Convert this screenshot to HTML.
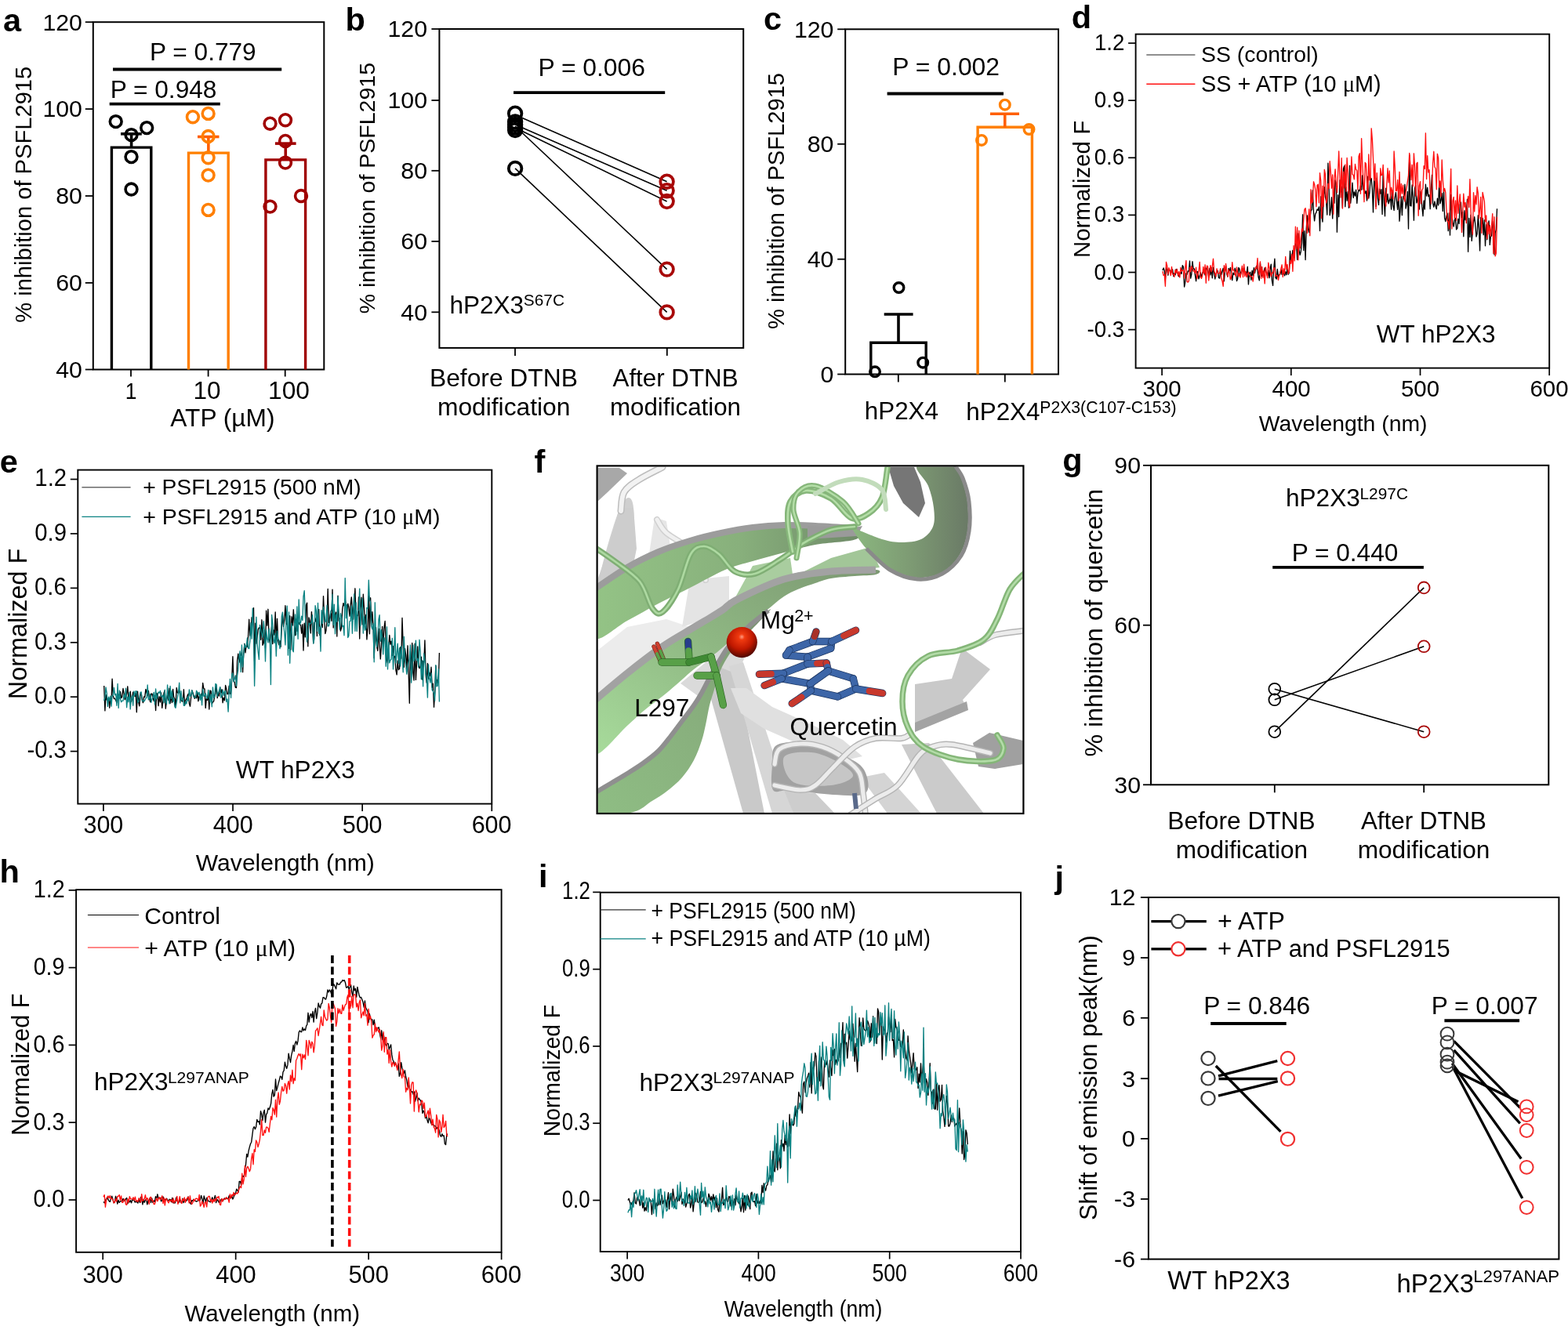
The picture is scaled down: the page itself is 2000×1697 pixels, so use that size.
<!DOCTYPE html>
<html><head><meta charset="utf-8"><title>Figure</title>
<style>
html,body{margin:0;padding:0;background:#fff;overflow:hidden;}
svg{display:block;}
text{font-family:'Liberation Sans', Arial, sans-serif;}
</style></head>
<body>
<svg width="2000" height="1697" viewBox="0 0 2000 1697">
<rect width="2000" height="1697" fill="#fff"/>
<text x="3.90" y="39.60" font-size="41.50" font-weight="bold" fill="#000">a</text>
<rect x="118.80" y="28.20" width="294.50" height="443.30" fill="none" stroke="#000" stroke-width="2.0"/>
<line x1="108.80" y1="28.20" x2="118.80" y2="28.20" stroke="#000" stroke-width="1.8"/>
<text x="54.41" y="38.50" font-size="30.30" font-weight="normal" fill="#000">120</text>
<line x1="108.80" y1="139.10" x2="118.80" y2="139.10" stroke="#000" stroke-width="1.8"/>
<text x="54.41" y="149.40" font-size="30.30" font-weight="normal" fill="#000">100</text>
<line x1="108.80" y1="250.00" x2="118.80" y2="250.00" stroke="#000" stroke-width="1.8"/>
<text x="71.23" y="260.30" font-size="30.30" font-weight="normal" fill="#000">80</text>
<line x1="108.80" y1="360.90" x2="118.80" y2="360.90" stroke="#000" stroke-width="1.8"/>
<text x="71.23" y="371.20" font-size="30.30" font-weight="normal" fill="#000">60</text>
<line x1="108.80" y1="471.50" x2="118.80" y2="471.50" stroke="#000" stroke-width="1.8"/>
<text x="71.23" y="481.80" font-size="30.30" font-weight="normal" fill="#000">40</text>
<line x1="167.00" y1="471.50" x2="167.00" y2="480.50" stroke="#000" stroke-width="1.8"/>
<line x1="265.60" y1="471.50" x2="265.60" y2="480.50" stroke="#000" stroke-width="1.8"/>
<line x1="363.70" y1="471.50" x2="363.70" y2="480.50" stroke="#000" stroke-width="1.8"/>
<text x="159.72" y="508.50" font-size="30.30" font-weight="normal" fill="#000" textLength="14.70" lengthAdjust="spacingAndGlyphs">1</text>
<text x="246.44" y="508.50" font-size="31.50" font-weight="normal" fill="#000">10</text>
<text x="342.02" y="508.50" font-size="31.70" font-weight="normal" fill="#000">100</text>
<text x="217.30" y="543.50" font-size="31.68" font-weight="normal" fill="#000">ATP (µM)</text>
<text transform="translate(39.90,411.82) rotate(-90)" x="0" y="0" font-size="29.13" font-weight="normal" fill="#000">% inhibition of PSFL2915</text>
<line x1="144.00" y1="88.50" x2="359.20" y2="88.50" stroke="#000" stroke-width="3.8"/>
<line x1="139.70" y1="132.60" x2="280.80" y2="132.60" stroke="#000" stroke-width="3.8"/>
<text x="191.07" y="76.50" font-size="31.62" font-weight="normal" fill="#000">P = 0.779</text>
<text x="140.67" y="125.20" font-size="31.65" font-weight="normal" fill="#000">P = 0.948</text>
<path d="M142.4,471.5 V188.1 H192.8 V471.5" fill="none" stroke="#000" stroke-width="3.4"/>
<line x1="167.60" y1="188.10" x2="167.60" y2="170.80" stroke="#000" stroke-width="3.6"/>
<line x1="154.00" y1="170.80" x2="180.80" y2="170.80" stroke="#000" stroke-width="3.6"/>
<path d="M240.5,471.5 V195.1 H291.2 V471.5" fill="none" stroke="#FF7F00" stroke-width="3.4"/>
<line x1="265.85" y1="195.10" x2="265.85" y2="174.50" stroke="#FF5F00" stroke-width="3.6"/>
<line x1="252.00" y1="174.50" x2="279.50" y2="174.50" stroke="#FF5F00" stroke-width="3.6"/>
<path d="M338.9,471.5 V203.9 H389.6 V471.5" fill="none" stroke="#A00000" stroke-width="3.4"/>
<line x1="364.25" y1="203.90" x2="364.25" y2="183.10" stroke="#A00000" stroke-width="3.6"/>
<line x1="350.90" y1="183.10" x2="377.60" y2="183.10" stroke="#A00000" stroke-width="3.6"/>
<circle cx="147.70" cy="155.10" r="7.40" fill="none" stroke="#000" stroke-width="3.6"/>
<circle cx="167.50" cy="172.10" r="7.40" fill="none" stroke="#000" stroke-width="3.6"/>
<circle cx="187.20" cy="163.10" r="7.40" fill="none" stroke="#000" stroke-width="3.6"/>
<circle cx="167.50" cy="200.10" r="7.40" fill="none" stroke="#000" stroke-width="3.6"/>
<circle cx="167.50" cy="241.50" r="7.40" fill="none" stroke="#000" stroke-width="3.6"/>
<circle cx="245.90" cy="149.20" r="7.40" fill="none" stroke="#FF7F00" stroke-width="3.6"/>
<circle cx="265.60" cy="144.90" r="7.40" fill="none" stroke="#FF7F00" stroke-width="3.6"/>
<circle cx="265.60" cy="174.00" r="7.40" fill="none" stroke="#FF7F00" stroke-width="3.6"/>
<circle cx="265.60" cy="201.20" r="7.40" fill="none" stroke="#FF7F00" stroke-width="3.6"/>
<circle cx="265.60" cy="223.60" r="7.40" fill="none" stroke="#FF7F00" stroke-width="3.6"/>
<circle cx="265.60" cy="267.90" r="7.40" fill="none" stroke="#FF7F00" stroke-width="3.6"/>
<circle cx="344.50" cy="157.70" r="7.40" fill="none" stroke="#A00000" stroke-width="3.6"/>
<circle cx="364.00" cy="153.20" r="7.40" fill="none" stroke="#A00000" stroke-width="3.6"/>
<circle cx="364.00" cy="179.90" r="7.40" fill="none" stroke="#A00000" stroke-width="3.6"/>
<circle cx="364.00" cy="207.60" r="7.40" fill="none" stroke="#A00000" stroke-width="3.6"/>
<circle cx="384.00" cy="250.00" r="7.40" fill="none" stroke="#A00000" stroke-width="3.6"/>
<circle cx="344.50" cy="263.60" r="7.40" fill="none" stroke="#A00000" stroke-width="3.6"/>
<text x="440.62" y="39.20" font-size="41.50" font-weight="bold" fill="#000">b</text>
<rect x="560.40" y="37.00" width="387.80" height="406.90" fill="none" stroke="#000" stroke-width="2.0"/>
<line x1="550.40" y1="37.00" x2="560.40" y2="37.00" stroke="#000" stroke-width="1.8"/>
<text x="494.51" y="47.30" font-size="30.30" font-weight="normal" fill="#000">120</text>
<line x1="550.40" y1="128.00" x2="560.40" y2="128.00" stroke="#000" stroke-width="1.8"/>
<text x="494.51" y="138.30" font-size="30.30" font-weight="normal" fill="#000">100</text>
<line x1="550.40" y1="217.80" x2="560.40" y2="217.80" stroke="#000" stroke-width="1.8"/>
<text x="511.33" y="228.10" font-size="30.30" font-weight="normal" fill="#000">80</text>
<line x1="550.40" y1="308.00" x2="560.40" y2="308.00" stroke="#000" stroke-width="1.8"/>
<text x="511.33" y="318.30" font-size="30.30" font-weight="normal" fill="#000">60</text>
<line x1="550.40" y1="398.30" x2="560.40" y2="398.30" stroke="#000" stroke-width="1.8"/>
<text x="511.33" y="408.60" font-size="30.30" font-weight="normal" fill="#000">40</text>
<line x1="657.00" y1="443.90" x2="657.00" y2="453.90" stroke="#000" stroke-width="1.8"/>
<line x1="850.80" y1="443.90" x2="850.80" y2="453.90" stroke="#000" stroke-width="1.8"/>
<line x1="655.00" y1="118.20" x2="848.20" y2="118.20" stroke="#000" stroke-width="3.8"/>
<text x="686.45" y="96.70" font-size="31.82" font-weight="normal" fill="#000">P = 0.006</text>
<text x="573.39" y="399.60" font-size="31.56" font-weight="normal" fill="#000">hP2X3</text>
<text x="667.86" y="389.90" font-size="20.83" font-weight="normal" fill="#000">S67C</text>
<text x="547.96" y="493.40" font-size="31.78" font-weight="normal" fill="#000">Before DTNB</text>
<text x="557.93" y="529.70" font-size="31.78" font-weight="normal" fill="#000">modification</text>
<text x="781.50" y="493.40" font-size="31.32" font-weight="normal" fill="#000">After DTNB</text>
<text x="777.96" y="529.70" font-size="31.32" font-weight="normal" fill="#000">modification</text>
<text transform="translate(478.30,400.30) rotate(-90)" x="0" y="0" font-size="28.54" font-weight="normal" fill="#000">% inhibition of PSFL2915</text>
<line x1="657.10" y1="146.50" x2="850.60" y2="231.70" stroke="#000" stroke-width="1.6"/>
<line x1="657.10" y1="159.00" x2="850.60" y2="243.20" stroke="#000" stroke-width="1.6"/>
<line x1="657.10" y1="163.00" x2="850.60" y2="257.00" stroke="#000" stroke-width="1.6"/>
<line x1="657.10" y1="161.00" x2="850.60" y2="343.60" stroke="#000" stroke-width="1.6"/>
<line x1="657.10" y1="214.90" x2="850.60" y2="398.40" stroke="#000" stroke-width="1.6"/>
<circle cx="657.10" cy="144.70" r="8.30" fill="none" stroke="#000" stroke-width="3.8"/>
<circle cx="657.10" cy="155.50" r="8.30" fill="none" stroke="#000" stroke-width="3.8"/>
<circle cx="657.10" cy="159.00" r="8.30" fill="none" stroke="#000" stroke-width="3.8"/>
<circle cx="657.10" cy="162.50" r="8.30" fill="none" stroke="#000" stroke-width="3.8"/>
<circle cx="657.10" cy="166.00" r="8.30" fill="none" stroke="#000" stroke-width="3.8"/>
<circle cx="657.10" cy="214.90" r="8.30" fill="none" stroke="#000" stroke-width="3.8"/>
<circle cx="850.60" cy="231.70" r="8.30" fill="none" stroke="#A80808" stroke-width="3.8"/>
<circle cx="850.60" cy="243.20" r="8.30" fill="none" stroke="#A80808" stroke-width="3.8"/>
<circle cx="850.60" cy="257.00" r="8.30" fill="none" stroke="#A80808" stroke-width="3.8"/>
<circle cx="850.60" cy="343.60" r="8.30" fill="none" stroke="#A80808" stroke-width="3.8"/>
<circle cx="850.60" cy="398.40" r="8.30" fill="none" stroke="#A80808" stroke-width="3.8"/>
<text x="973.88" y="37.60" font-size="41.50" font-weight="bold" fill="#000">c</text>
<rect x="1078.20" y="37.30" width="271.80" height="440.20" fill="none" stroke="#000" stroke-width="2.0"/>
<line x1="1068.20" y1="37.30" x2="1078.20" y2="37.30" stroke="#000" stroke-width="1.8"/>
<text x="1012.91" y="47.60" font-size="30.30" font-weight="normal" fill="#000">120</text>
<line x1="1068.20" y1="183.80" x2="1078.20" y2="183.80" stroke="#000" stroke-width="1.8"/>
<text x="1029.73" y="194.10" font-size="30.30" font-weight="normal" fill="#000">80</text>
<line x1="1068.20" y1="330.70" x2="1078.20" y2="330.70" stroke="#000" stroke-width="1.8"/>
<text x="1029.73" y="341.00" font-size="30.30" font-weight="normal" fill="#000">40</text>
<line x1="1068.20" y1="477.50" x2="1078.20" y2="477.50" stroke="#000" stroke-width="1.8"/>
<text x="1046.54" y="487.80" font-size="30.30" font-weight="normal" fill="#000">0</text>
<line x1="1145.80" y1="477.50" x2="1145.80" y2="487.50" stroke="#000" stroke-width="1.8"/>
<line x1="1281.80" y1="477.50" x2="1281.80" y2="487.50" stroke="#000" stroke-width="1.8"/>
<line x1="1131.60" y1="119.50" x2="1280.00" y2="119.50" stroke="#000" stroke-width="3.8"/>
<text x="1138.35" y="96.40" font-size="31.87" font-weight="normal" fill="#000">P = 0.002</text>
<text x="1102.80" y="534.60" font-size="31.38" font-weight="normal" fill="#000">hP2X4</text>
<text x="1232.20" y="535.90" font-size="31.45" font-weight="normal" fill="#000">hP2X4</text>
<text x="1326.31" y="526.70" font-size="21.18" font-weight="normal" fill="#000">P2X3(C107-C153)</text>
<text transform="translate(999.60,420.02) rotate(-90)" x="0" y="0" font-size="29.13" font-weight="normal" fill="#000">% inhibition of PSFL2915</text>
<path d="M1110.8,477.5 V437.2 H1181.2 V477.5" fill="none" stroke="#000" stroke-width="3.4"/>
<line x1="1146.00" y1="437.20" x2="1146.00" y2="401.00" stroke="#000" stroke-width="3.6"/>
<line x1="1127.70" y1="401.00" x2="1164.60" y2="401.00" stroke="#000" stroke-width="3.6"/>
<path d="M1247.1,477.5 V162.3 H1316.4 V477.5" fill="none" stroke="#FF7F00" stroke-width="3.4"/>
<line x1="1281.75" y1="162.30" x2="1281.75" y2="145.20" stroke="#FF5F00" stroke-width="3.6"/>
<line x1="1263.00" y1="145.20" x2="1300.00" y2="145.20" stroke="#FF5F00" stroke-width="3.6"/>
<circle cx="1146.50" cy="367.00" r="6.30" fill="none" stroke="#000" stroke-width="3.4"/>
<circle cx="1116.00" cy="474.30" r="6.30" fill="none" stroke="#000" stroke-width="3.4"/>
<circle cx="1177.20" cy="462.70" r="6.30" fill="none" stroke="#000" stroke-width="3.4"/>
<circle cx="1281.80" cy="133.70" r="6.30" fill="none" stroke="#FF7F00" stroke-width="3.4"/>
<circle cx="1252.00" cy="178.90" r="6.30" fill="none" stroke="#FF7F00" stroke-width="3.4"/>
<circle cx="1312.50" cy="165.00" r="6.30" fill="none" stroke="#FF7F00" stroke-width="3.4"/>
<text x="1355.26" y="601.00" font-size="41.50" font-weight="bold" fill="#000">g</text>
<rect x="1468.00" y="593.80" width="507.30" height="407.50" fill="none" stroke="#000" stroke-width="2.0"/>
<line x1="1458.00" y1="593.80" x2="1468.00" y2="593.80" stroke="#000" stroke-width="1.8"/>
<text x="1421.33" y="604.10" font-size="30.30" font-weight="normal" fill="#000">90</text>
<line x1="1458.00" y1="797.70" x2="1468.00" y2="797.70" stroke="#000" stroke-width="1.8"/>
<text x="1421.33" y="808.00" font-size="30.30" font-weight="normal" fill="#000">60</text>
<line x1="1458.00" y1="1001.30" x2="1468.00" y2="1001.30" stroke="#000" stroke-width="1.8"/>
<text x="1421.33" y="1011.60" font-size="30.30" font-weight="normal" fill="#000">30</text>
<line x1="1625.80" y1="1001.30" x2="1625.80" y2="1011.30" stroke="#000" stroke-width="1.8"/>
<line x1="1816.20" y1="1001.30" x2="1816.20" y2="1011.30" stroke="#000" stroke-width="1.8"/>
<line x1="1623.20" y1="723.80" x2="1815.90" y2="723.80" stroke="#000" stroke-width="3.8"/>
<text x="1647.67" y="716.20" font-size="31.62" font-weight="normal" fill="#000">P = 0.440</text>
<text x="1639.99" y="646.00" font-size="31.59" font-weight="normal" fill="#000">hP2X3</text>
<text x="1734.53" y="636.60" font-size="20.85" font-weight="normal" fill="#000">L297C</text>
<text x="1489.27" y="1057.80" font-size="31.68" font-weight="normal" fill="#000">Before DTNB</text>
<text x="1499.65" y="1094.70" font-size="31.57" font-weight="normal" fill="#000">modification</text>
<text x="1736.00" y="1057.80" font-size="31.30" font-weight="normal" fill="#000">After DTNB</text>
<text x="1731.64" y="1094.70" font-size="31.64" font-weight="normal" fill="#000">modification</text>
<text transform="translate(1405.80,965.53) rotate(-90)" x="0" y="0" font-size="32.18" font-weight="normal" fill="#000">% inhibition of quercetin</text>
<line x1="1625.80" y1="879.20" x2="1816.20" y2="933.70" stroke="#000" stroke-width="1.6"/>
<line x1="1625.80" y1="892.80" x2="1816.20" y2="824.80" stroke="#000" stroke-width="1.6"/>
<line x1="1625.80" y1="933.70" x2="1816.20" y2="749.90" stroke="#000" stroke-width="1.6"/>
<circle cx="1625.80" cy="879.20" r="7.40" fill="none" stroke="#000" stroke-width="1.8"/>
<circle cx="1625.80" cy="892.80" r="7.40" fill="none" stroke="#000" stroke-width="1.8"/>
<circle cx="1625.80" cy="933.70" r="7.40" fill="none" stroke="#000" stroke-width="1.8"/>
<circle cx="1816.20" cy="749.90" r="7.40" fill="none" stroke="#A80808" stroke-width="1.8"/>
<circle cx="1816.20" cy="824.80" r="7.40" fill="none" stroke="#A80808" stroke-width="1.8"/>
<circle cx="1816.20" cy="933.70" r="7.40" fill="none" stroke="#A80808" stroke-width="1.8"/>
<text x="1345.60" y="1133.60" font-size="41.50" font-weight="bold" fill="#000">j</text>
<rect x="1464.90" y="1145.00" width="523.50" height="461.60" fill="none" stroke="#000" stroke-width="2.0"/>
<line x1="1454.90" y1="1145.00" x2="1464.90" y2="1145.00" stroke="#000" stroke-width="1.8"/>
<text x="1414.68" y="1155.30" font-size="30.30" font-weight="normal" fill="#000">12</text>
<line x1="1454.90" y1="1222.10" x2="1464.90" y2="1222.10" stroke="#000" stroke-width="1.8"/>
<text x="1431.35" y="1232.40" font-size="30.30" font-weight="normal" fill="#000">9</text>
<line x1="1454.90" y1="1298.80" x2="1464.90" y2="1298.80" stroke="#000" stroke-width="1.8"/>
<text x="1431.20" y="1309.10" font-size="30.30" font-weight="normal" fill="#000">6</text>
<line x1="1454.90" y1="1376.20" x2="1464.90" y2="1376.20" stroke="#000" stroke-width="1.8"/>
<text x="1431.20" y="1386.50" font-size="30.30" font-weight="normal" fill="#000">3</text>
<line x1="1454.90" y1="1452.90" x2="1464.90" y2="1452.90" stroke="#000" stroke-width="1.8"/>
<text x="1431.04" y="1463.20" font-size="30.30" font-weight="normal" fill="#000">0</text>
<line x1="1454.90" y1="1529.90" x2="1464.90" y2="1529.90" stroke="#000" stroke-width="1.8"/>
<text x="1421.05" y="1540.20" font-size="30.30" font-weight="normal" fill="#000">-3</text>
<line x1="1454.90" y1="1606.60" x2="1464.90" y2="1606.60" stroke="#000" stroke-width="1.8"/>
<text x="1421.05" y="1616.90" font-size="30.30" font-weight="normal" fill="#000">-6</text>
<text transform="translate(1399.00,1556.98) rotate(-90)" x="0" y="0" font-size="30.74" font-weight="normal" fill="#000">Shift of emission peak(nm)</text>
<line x1="1468.40" y1="1175.60" x2="1538.80" y2="1175.60" stroke="#000" stroke-width="3.2"/>
<circle cx="1502.90" cy="1175.60" r="8.60" fill="#fff" stroke="#3a3a3a" stroke-width="2.2"/>
<line x1="1468.40" y1="1210.80" x2="1538.80" y2="1210.80" stroke="#000" stroke-width="3.2"/>
<circle cx="1502.90" cy="1210.80" r="8.60" fill="#fff" stroke="#f03030" stroke-width="2.2"/>
<text x="1552.99" y="1185.50" font-size="32.12" font-weight="normal" fill="#000">+ ATP</text>
<text x="1553.06" y="1220.70" font-size="30.86" font-weight="normal" fill="#000">+ ATP and PSFL2915</text>
<line x1="1544.20" y1="1305.90" x2="1640.70" y2="1305.90" stroke="#000" stroke-width="4.0"/>
<line x1="1842.40" y1="1302.30" x2="1938.10" y2="1302.30" stroke="#000" stroke-width="4.0"/>
<text x="1535.16" y="1294.20" font-size="31.73" font-weight="normal" fill="#000">P = 0.846</text>
<text x="1825.77" y="1294.20" font-size="31.63" font-weight="normal" fill="#000">P = 0.007</text>
<text x="1489.34" y="1645.30" font-size="32.45" font-weight="normal" fill="#000">WT hP2X3</text>
<text x="1781.50" y="1649.10" font-size="32.84" font-weight="normal" fill="#000">hP2X3</text>
<text x="1879.22" y="1636.20" font-size="22.20" font-weight="normal" fill="#000">L297ANAP</text>
<line x1="1550.80" y1="1360.00" x2="1633.50" y2="1443.90" stroke="#000" stroke-width="3.3"/>
<line x1="1554.00" y1="1372.80" x2="1629.30" y2="1353.70" stroke="#000" stroke-width="3.3"/>
<line x1="1554.50" y1="1376.50" x2="1629.30" y2="1376.50" stroke="#000" stroke-width="3.3"/>
<line x1="1554.00" y1="1398.20" x2="1629.80" y2="1379.70" stroke="#000" stroke-width="3.3"/>
<line x1="1854.50" y1="1328.40" x2="1938.80" y2="1413.40" stroke="#000" stroke-width="3.3"/>
<line x1="1854.50" y1="1339.80" x2="1938.80" y2="1433.30" stroke="#000" stroke-width="3.3"/>
<line x1="1855.20" y1="1365.90" x2="1936.50" y2="1405.70" stroke="#000" stroke-width="3.3"/>
<line x1="1852.20" y1="1356.70" x2="1940.30" y2="1478.50" stroke="#000" stroke-width="3.3"/>
<line x1="1853.00" y1="1361.30" x2="1941.80" y2="1529.10" stroke="#000" stroke-width="3.3"/>
<circle cx="1541.00" cy="1350.50" r="8.60" fill="none" stroke="#3a3a3a" stroke-width="2.2"/>
<circle cx="1541.00" cy="1375.90" r="8.60" fill="none" stroke="#3a3a3a" stroke-width="2.2"/>
<circle cx="1541.00" cy="1401.40" r="8.60" fill="none" stroke="#3a3a3a" stroke-width="2.2"/>
<circle cx="1642.50" cy="1350.50" r="8.60" fill="none" stroke="#f03030" stroke-width="2.2"/>
<circle cx="1642.50" cy="1375.90" r="8.60" fill="none" stroke="#f03030" stroke-width="2.2"/>
<circle cx="1642.50" cy="1453.40" r="8.60" fill="none" stroke="#f03030" stroke-width="2.2"/>
<circle cx="1846.00" cy="1359.80" r="8.40" fill="none" stroke="#3a3a3a" stroke-width="2.0"/>
<circle cx="1846.00" cy="1355.20" r="8.40" fill="none" stroke="#3a3a3a" stroke-width="2.0"/>
<circle cx="1846.00" cy="1345.20" r="8.40" fill="none" stroke="#3a3a3a" stroke-width="2.0"/>
<circle cx="1846.00" cy="1329.90" r="8.40" fill="none" stroke="#3a3a3a" stroke-width="2.0"/>
<circle cx="1846.00" cy="1319.20" r="8.40" fill="none" stroke="#3a3a3a" stroke-width="2.0"/>
<circle cx="1947.20" cy="1411.90" r="8.40" fill="none" stroke="#f03030" stroke-width="2.0"/>
<circle cx="1947.20" cy="1422.60" r="8.40" fill="none" stroke="#f03030" stroke-width="2.0"/>
<circle cx="1947.20" cy="1442.50" r="8.40" fill="none" stroke="#f03030" stroke-width="2.0"/>
<circle cx="1947.20" cy="1489.30" r="8.40" fill="none" stroke="#f03030" stroke-width="2.0"/>
<circle cx="1947.20" cy="1540.60" r="8.40" fill="none" stroke="#f03030" stroke-width="2.0"/>
<text x="1366.86" y="35.90" font-size="41.50" font-weight="bold" fill="#000">d</text>
<rect x="1448.60" y="43.60" width="527.60" height="426.00" fill="none" stroke="#000" stroke-width="1.9"/>
<line x1="1439.10" y1="55.06" x2="1448.60" y2="55.06" stroke="#000" stroke-width="1.7"/>
<text x="1395.97" y="64.06" font-size="29.40" font-weight="normal" fill="#000" textLength="38.42" lengthAdjust="spacingAndGlyphs">1.2</text>
<line x1="1439.10" y1="128.17" x2="1448.60" y2="128.17" stroke="#000" stroke-width="1.7"/>
<text x="1395.83" y="137.17" font-size="29.40" font-weight="normal" fill="#000" textLength="38.42" lengthAdjust="spacingAndGlyphs">0.9</text>
<line x1="1439.10" y1="201.28" x2="1448.60" y2="201.28" stroke="#000" stroke-width="1.7"/>
<text x="1395.69" y="210.28" font-size="29.40" font-weight="normal" fill="#000" textLength="38.42" lengthAdjust="spacingAndGlyphs">0.6</text>
<line x1="1439.10" y1="274.39" x2="1448.60" y2="274.39" stroke="#000" stroke-width="1.7"/>
<text x="1395.69" y="283.39" font-size="29.40" font-weight="normal" fill="#000" textLength="38.42" lengthAdjust="spacingAndGlyphs">0.3</text>
<line x1="1439.10" y1="347.50" x2="1448.60" y2="347.50" stroke="#000" stroke-width="1.7"/>
<text x="1395.55" y="356.50" font-size="29.40" font-weight="normal" fill="#000" textLength="38.42" lengthAdjust="spacingAndGlyphs">0.0</text>
<line x1="1439.10" y1="420.61" x2="1448.60" y2="420.61" stroke="#000" stroke-width="1.7"/>
<text x="1386.57" y="429.61" font-size="29.40" font-weight="normal" fill="#000" textLength="47.62" lengthAdjust="spacingAndGlyphs">-0.3</text>
<line x1="1482.10" y1="469.60" x2="1482.10" y2="479.10" stroke="#000" stroke-width="1.7"/>
<text x="1457.55" y="505.70" font-size="29.40" font-weight="normal" fill="#000">300</text>
<line x1="1646.80" y1="469.60" x2="1646.80" y2="479.10" stroke="#000" stroke-width="1.7"/>
<text x="1622.55" y="505.70" font-size="29.40" font-weight="normal" fill="#000">400</text>
<line x1="1811.50" y1="469.60" x2="1811.50" y2="479.10" stroke="#000" stroke-width="1.7"/>
<text x="1786.95" y="505.70" font-size="29.40" font-weight="normal" fill="#000">500</text>
<line x1="1976.20" y1="469.60" x2="1976.20" y2="479.10" stroke="#000" stroke-width="1.7"/>
<text x="1951.50" y="505.70" font-size="29.40" font-weight="normal" fill="#000">600</text>
<path d="M1482.9,345.1 L1484.1,341.9 L1485.2,345.2 L1486.4,356.4 L1487.5,341.3 L1488.7,344.5 L1489.8,351.2 L1491.0,343.5 L1492.1,345.0 L1493.3,345.5 L1494.5,347.3 L1495.6,343.8 L1496.8,352.5 L1497.9,348.6 L1499.1,350.8 L1500.2,343.4 L1501.4,347.2 L1502.5,349.5 L1503.7,352.8 L1504.8,349.3 L1506.0,347.4 L1507.1,349.4 L1508.3,338.7 L1509.4,340.6 L1510.6,366.0 L1511.7,360.4 L1512.9,348.7 L1514.1,350.4 L1515.2,346.0 L1516.4,346.0 L1517.5,333.0 L1518.7,355.1 L1519.8,350.1 L1521.0,333.6 L1522.1,343.1 L1523.3,343.0 L1524.4,351.0 L1525.6,358.7 L1526.7,346.4 L1527.9,346.8 L1529.0,355.9 L1530.2,352.2 L1531.3,348.0 L1532.5,353.9 L1533.7,348.2 L1534.8,346.8 L1536.0,347.3 L1537.1,351.0 L1538.3,343.4 L1539.4,341.4 L1540.6,345.3 L1541.7,353.1 L1542.9,342.5 L1544.0,350.9 L1545.2,341.5 L1546.3,354.8 L1547.5,341.3 L1548.6,347.6 L1549.8,356.0 L1550.9,349.6 L1552.1,347.1 L1553.3,345.6 L1554.4,354.2 L1555.6,355.1 L1556.7,346.1 L1557.9,350.7 L1559.0,345.9 L1560.2,342.3 L1561.3,358.8 L1562.5,345.8 L1563.6,339.1 L1564.8,349.5 L1565.9,353.0 L1567.1,342.4 L1568.2,345.8 L1569.4,341.4 L1570.5,349.9 L1571.7,357.6 L1572.8,348.3 L1574.0,350.5 L1575.2,342.2 L1576.3,346.2 L1577.5,358.6 L1578.6,355.7 L1579.8,341.5 L1580.9,342.9 L1582.1,351.9 L1583.2,347.5 L1584.4,344.5 L1585.5,344.3 L1586.7,341.5 L1587.8,345.7 L1589.0,348.1 L1590.1,349.3 L1591.3,340.3 L1592.4,362.9 L1593.6,348.4 L1594.8,347.3 L1595.9,357.2 L1597.1,345.2 L1598.2,351.9 L1599.4,341.6 L1600.5,348.4 L1601.7,342.9 L1602.8,339.2 L1604.0,344.9 L1605.1,353.5 L1606.3,357.8 L1607.4,335.5 L1608.6,348.3 L1609.7,352.2 L1610.9,346.5 L1612.0,348.8 L1613.2,341.7 L1614.4,347.3 L1615.5,347.4 L1616.7,352.4 L1617.8,344.3 L1619.0,354.6 L1620.1,343.0 L1621.3,337.1 L1622.4,357.9 L1623.6,364.3 L1624.7,343.3 L1625.9,330.1 L1627.0,354.3 L1628.2,356.0 L1629.3,343.5 L1630.5,353.2 L1631.6,351.0 L1632.8,349.9 L1634.0,343.9 L1635.1,350.3 L1636.3,345.6 L1637.4,348.2 L1638.6,351.8 L1639.7,346.8 L1640.9,350.7 L1642.0,341.8 L1643.2,350.2 L1644.3,348.1 L1645.5,320.3 L1646.6,332.4 L1647.8,329.4 L1648.9,319.4 L1650.1,328.2 L1651.2,322.8 L1652.4,310.9 L1653.6,310.9 L1654.7,331.3 L1655.9,297.9 L1657.0,319.1 L1658.2,325.4 L1659.3,320.8 L1660.5,310.2 L1661.6,273.8 L1662.8,319.6 L1663.9,294.7 L1665.1,331.5 L1666.2,292.8 L1667.4,275.0 L1668.5,292.1 L1669.7,296.4 L1670.8,279.4 L1672.0,269.1 L1673.2,267.3 L1674.3,242.7 L1675.5,270.4 L1676.6,281.9 L1677.8,273.0 L1678.9,271.1 L1680.1,267.0 L1681.2,268.4 L1682.4,264.0 L1683.5,294.5 L1684.7,250.8 L1685.8,273.8 L1687.0,283.1 L1688.1,251.2 L1689.3,238.6 L1690.4,251.7 L1691.6,256.4 L1692.8,274.1 L1693.9,208.2 L1695.1,241.2 L1696.2,274.7 L1697.4,267.6 L1698.5,251.8 L1699.7,278.9 L1700.8,249.0 L1702.0,259.2 L1703.1,230.0 L1704.3,234.0 L1705.4,296.2 L1706.6,248.8 L1707.7,276.6 L1708.9,229.6 L1710.0,245.1 L1711.2,238.2 L1712.4,265.2 L1713.5,215.3 L1714.7,211.6 L1715.8,263.7 L1717.0,238.7 L1718.1,256.1 L1719.3,244.5 L1720.4,265.2 L1721.6,211.3 L1722.7,259.2 L1723.9,247.2 L1725.0,233.2 L1726.2,252.3 L1727.3,244.9 L1728.5,250.0 L1729.6,242.2 L1730.8,259.4 L1731.9,246.5 L1733.1,242.1 L1734.3,243.8 L1735.4,236.7 L1736.6,242.2 L1737.7,223.9 L1738.9,241.8 L1740.0,238.2 L1741.2,246.7 L1742.3,243.9 L1743.5,256.0 L1744.6,225.2 L1745.8,253.0 L1746.9,245.8 L1748.1,227.5 L1749.2,227.7 L1750.4,242.4 L1751.5,270.9 L1752.7,230.3 L1753.9,233.9 L1755.0,263.4 L1756.2,227.1 L1757.3,253.2 L1758.5,261.4 L1759.6,241.5 L1760.8,247.1 L1761.9,241.6 L1763.1,273.5 L1764.2,216.3 L1765.4,258.7 L1766.5,275.8 L1767.7,240.1 L1768.8,257.9 L1770.0,247.4 L1771.1,259.9 L1772.3,255.8 L1773.5,250.4 L1774.6,267.1 L1775.8,242.5 L1776.9,261.9 L1778.1,268.4 L1779.2,252.0 L1780.4,245.5 L1781.5,256.8 L1782.7,267.3 L1783.8,241.8 L1785.0,282.2 L1786.1,269.5 L1787.3,251.0 L1788.4,274.6 L1789.6,250.7 L1790.7,251.9 L1791.9,235.3 L1793.1,266.0 L1794.2,260.9 L1795.4,244.4 L1796.5,292.1 L1797.7,197.4 L1798.8,262.3 L1800.0,263.0 L1801.1,235.9 L1802.3,251.4 L1803.4,281.2 L1804.6,240.3 L1805.7,236.5 L1806.9,258.9 L1808.0,256.1 L1809.2,243.1 L1810.3,267.0 L1811.5,244.2 L1812.7,248.4 L1813.8,263.4 L1815.0,275.7 L1816.1,255.9 L1817.3,267.1 L1818.4,235.2 L1819.6,250.0 L1820.7,239.3 L1821.9,250.6 L1823.0,248.6 L1824.2,266.6 L1825.3,242.1 L1826.5,223.3 L1827.6,259.2 L1828.8,264.2 L1829.9,257.0 L1831.1,262.8 L1832.3,266.7 L1833.4,253.2 L1834.6,261.9 L1835.7,233.9 L1836.9,259.9 L1838.0,255.8 L1839.2,246.6 L1840.3,269.4 L1841.5,241.2 L1842.6,278.0 L1843.8,282.5 L1844.9,276.0 L1846.1,272.2 L1847.2,294.6 L1848.4,271.8 L1849.5,300.1 L1850.7,248.4 L1851.9,274.0 L1853.0,284.1 L1854.2,289.1 L1855.3,280.7 L1856.5,278.4 L1857.6,292.9 L1858.8,291.3 L1859.9,279.3 L1861.1,285.4 L1862.2,261.0 L1863.4,258.1 L1864.5,277.7 L1865.7,270.4 L1866.8,301.8 L1868.0,268.7 L1869.1,280.8 L1870.3,272.7 L1871.5,254.3 L1872.6,321.2 L1873.8,278.5 L1874.9,302.4 L1876.1,274.2 L1877.2,307.4 L1878.4,294.1 L1879.5,282.9 L1880.7,276.6 L1881.8,286.5 L1883.0,302.0 L1884.1,298.6 L1885.3,274.7 L1886.4,290.6 L1887.6,319.9 L1888.7,277.4 L1889.9,285.4 L1891.1,278.3 L1892.2,299.6 L1893.4,280.6 L1894.5,313.7 L1895.7,286.7 L1896.8,305.7 L1898.0,286.6 L1899.1,281.8 L1900.3,312.4 L1901.4,301.6 L1902.6,300.9 L1903.7,282.1 L1904.9,291.1 L1906.0,324.9 L1907.2,297.2 L1908.3,293.1 L1909.5,266.2" fill="none" stroke="#000" stroke-width="1.35" stroke-linejoin="round"/>
<path d="M1482.9,346.1 L1484.1,351.3 L1485.2,350.5 L1486.4,365.3 L1487.5,334.3 L1488.7,339.1 L1489.8,349.9 L1491.0,341.8 L1492.1,345.4 L1493.3,351.5 L1494.5,340.4 L1495.6,349.8 L1496.8,349.9 L1497.9,353.3 L1499.1,344.2 L1500.2,348.2 L1501.4,343.5 L1502.5,351.9 L1503.7,346.6 L1504.8,354.0 L1506.0,341.3 L1507.1,346.1 L1508.3,345.1 L1509.4,344.5 L1510.6,354.9 L1511.7,341.8 L1512.9,332.5 L1514.1,359.5 L1515.2,360.1 L1516.4,358.5 L1517.5,341.3 L1518.7,346.6 L1519.8,339.6 L1521.0,342.2 L1522.1,346.0 L1523.3,345.4 L1524.4,348.7 L1525.6,341.2 L1526.7,355.8 L1527.9,350.6 L1529.0,345.7 L1530.2,334.3 L1531.3,353.1 L1532.5,355.4 L1533.7,351.6 L1534.8,340.4 L1536.0,349.2 L1537.1,337.8 L1538.3,361.2 L1539.4,339.2 L1540.6,339.9 L1541.7,357.9 L1542.9,346.4 L1544.0,338.6 L1545.2,346.9 L1546.3,340.2 L1547.5,330.1 L1548.6,345.5 L1549.8,349.5 L1550.9,353.1 L1552.1,342.8 L1553.3,348.9 L1554.4,348.8 L1555.6,348.3 L1556.7,342.7 L1557.9,355.3 L1559.0,358.7 L1560.2,365.3 L1561.3,338.7 L1562.5,347.0 L1563.6,336.5 L1564.8,347.6 L1565.9,352.9 L1567.1,344.0 L1568.2,348.1 L1569.4,356.7 L1570.5,354.0 L1571.7,334.6 L1572.8,344.9 L1574.0,344.5 L1575.2,349.5 L1576.3,352.5 L1577.5,341.0 L1578.6,348.3 L1579.8,353.0 L1580.9,348.5 L1582.1,354.1 L1583.2,346.1 L1584.4,339.2 L1585.5,353.6 L1586.7,337.1 L1587.8,352.4 L1589.0,346.4 L1590.1,353.6 L1591.3,349.1 L1592.4,347.2 L1593.6,350.7 L1594.8,352.6 L1595.9,352.5 L1597.1,353.5 L1598.2,359.0 L1599.4,349.4 L1600.5,344.6 L1601.7,340.9 L1602.8,342.8 L1604.0,329.5 L1605.1,345.2 L1606.3,350.8 L1607.4,333.8 L1608.6,355.2 L1609.7,340.4 L1610.9,354.5 L1612.0,344.9 L1613.2,361.9 L1614.4,340.9 L1615.5,348.7 L1616.7,354.6 L1617.8,335.2 L1619.0,341.9 L1620.1,347.2 L1621.3,352.9 L1622.4,347.8 L1623.6,348.7 L1624.7,342.2 L1625.9,341.7 L1627.0,352.4 L1628.2,351.5 L1629.3,351.4 L1630.5,357.4 L1631.6,351.8 L1632.8,348.2 L1634.0,342.4 L1635.1,337.8 L1636.3,353.4 L1637.4,342.8 L1638.6,349.1 L1639.7,327.5 L1640.9,343.5 L1642.0,337.4 L1643.2,349.2 L1644.3,346.0 L1645.5,332.8 L1646.6,336.3 L1647.8,324.4 L1648.9,346.3 L1650.1,313.4 L1651.2,332.9 L1652.4,289.2 L1653.6,317.7 L1654.7,290.2 L1655.9,331.8 L1657.0,294.3 L1658.2,316.6 L1659.3,305.3 L1660.5,291.9 L1661.6,295.2 L1662.8,280.4 L1663.9,267.4 L1665.1,265.5 L1666.2,276.2 L1667.4,297.3 L1668.5,282.7 L1669.7,267.0 L1670.8,300.8 L1672.0,241.8 L1673.2,259.1 L1674.3,257.3 L1675.5,231.8 L1676.6,235.2 L1677.8,241.9 L1678.9,263.7 L1680.1,236.5 L1681.2,235.3 L1682.4,258.8 L1683.5,220.7 L1684.7,230.6 L1685.8,278.4 L1687.0,237.1 L1688.1,263.6 L1689.3,216.3 L1690.4,222.2 L1691.6,259.0 L1692.8,254.2 L1693.9,234.4 L1695.1,240.6 L1696.2,205.7 L1697.4,220.5 L1698.5,240.1 L1699.7,222.9 L1700.8,273.3 L1702.0,227.2 L1703.1,215.9 L1704.3,235.9 L1705.4,245.8 L1706.6,220.5 L1707.7,192.9 L1708.9,226.7 L1710.0,252.1 L1711.2,201.7 L1712.4,266.1 L1713.5,219.2 L1714.7,239.9 L1715.8,210.0 L1717.0,244.3 L1718.1,201.5 L1719.3,221.0 L1720.4,260.1 L1721.6,264.5 L1722.7,231.8 L1723.9,200.0 L1725.0,222.4 L1726.2,223.3 L1727.3,228.8 L1728.5,209.5 L1729.6,216.2 L1730.8,217.7 L1731.9,242.1 L1733.1,199.4 L1734.3,195.6 L1735.4,247.2 L1736.6,176.6 L1737.7,207.1 L1738.9,230.3 L1740.0,257.6 L1741.2,207.3 L1742.3,208.9 L1743.5,231.1 L1744.6,254.0 L1745.8,196.9 L1746.9,229.9 L1748.1,227.9 L1749.2,163.8 L1750.4,178.4 L1751.5,201.9 L1752.7,229.9 L1753.9,208.9 L1755.0,266.6 L1756.2,220.6 L1757.3,238.1 L1758.5,248.9 L1759.6,255.3 L1760.8,214.8 L1761.9,223.8 L1763.1,223.0 L1764.2,210.3 L1765.4,243.8 L1766.5,251.9 L1767.7,263.0 L1768.8,235.5 L1770.0,214.7 L1771.1,233.0 L1772.3,218.0 L1773.5,253.2 L1774.6,239.1 L1775.8,244.7 L1776.9,253.8 L1778.1,193.0 L1779.2,212.4 L1780.4,243.6 L1781.5,243.4 L1782.7,229.4 L1783.8,256.1 L1785.0,219.3 L1786.1,252.8 L1787.3,234.5 L1788.4,247.0 L1789.6,236.2 L1790.7,252.5 L1791.9,257.0 L1793.1,244.9 L1794.2,239.1 L1795.4,231.3 L1796.5,224.0 L1797.7,195.4 L1798.8,209.1 L1800.0,229.6 L1801.1,210.3 L1802.3,237.7 L1803.4,195.8 L1804.6,213.1 L1805.7,250.0 L1806.9,208.6 L1808.0,207.2 L1809.2,275.2 L1810.3,237.2 L1811.5,231.6 L1812.7,259.8 L1813.8,242.8 L1815.0,240.2 L1816.1,211.6 L1817.3,215.4 L1818.4,169.8 L1819.6,228.5 L1820.7,198.7 L1821.9,220.0 L1823.0,216.7 L1824.2,245.0 L1825.3,260.1 L1826.5,238.2 L1827.6,208.8 L1828.8,193.3 L1829.9,212.8 L1831.1,215.3 L1832.3,241.8 L1833.4,196.3 L1834.6,201.3 L1835.7,239.1 L1836.9,230.9 L1838.0,250.7 L1839.2,204.0 L1840.3,229.1 L1841.5,244.6 L1842.6,240.5 L1843.8,245.5 L1844.9,265.5 L1846.1,281.9 L1847.2,283.0 L1848.4,292.1 L1849.5,249.4 L1850.7,215.4 L1851.9,292.0 L1853.0,256.4 L1854.2,251.4 L1855.3,278.8 L1856.5,255.9 L1857.6,281.5 L1858.8,237.0 L1859.9,272.2 L1861.1,258.9 L1862.2,247.8 L1863.4,269.7 L1864.5,296.5 L1865.7,272.2 L1866.8,247.2 L1868.0,264.1 L1869.1,258.5 L1870.3,284.6 L1871.5,261.4 L1872.6,250.5 L1873.8,264.6 L1874.9,228.7 L1876.1,270.5 L1877.2,287.3 L1878.4,299.1 L1879.5,245.7 L1880.7,269.9 L1881.8,249.5 L1883.0,260.9 L1884.1,238.7 L1885.3,246.3 L1886.4,278.9 L1887.6,266.8 L1888.7,251.5 L1889.9,297.4 L1891.1,245.5 L1892.2,250.8 L1893.4,257.4 L1894.5,282.6 L1895.7,274.9 L1896.8,304.7 L1898.0,283.9 L1899.1,298.6 L1900.3,287.6 L1901.4,301.1 L1902.6,288.0 L1903.7,272.7 L1904.9,323.4 L1906.0,276.8 L1907.2,326.9 L1908.3,323.3 L1909.5,276.7" fill="none" stroke="#ff1010" stroke-width="1.35" stroke-linejoin="round"/>
<line x1="1462.30" y1="70.00" x2="1524.40" y2="70.00" stroke="#6a6a6a" stroke-width="1.5"/>
<line x1="1462.30" y1="107.30" x2="1524.40" y2="107.30" stroke="#ff1010" stroke-width="1.4"/>
<text x="1532.02" y="79.20" font-size="28.39" font-weight="normal" fill="#000">SS (control)</text>
<text x="1532.00" y="117.20" font-size="28.80" font-weight="normal" fill="#000">SS + ATP (10 <tspan style="font-family:'Liberation Serif', serif">μ</tspan>M)</text>
<text x="1755.84" y="437.30" font-size="31.49" font-weight="normal" fill="#000">WT hP2X3</text>
<text x="1605.76" y="549.50" font-size="28.35" font-weight="normal" fill="#000">Wavelength (nm)</text>
<text transform="translate(1389.70,329.06) rotate(-90)" x="0" y="0" font-size="29.48" font-weight="normal" fill="#000">Normalized F</text>
<text x="-0.24" y="603.10" font-size="41.50" font-weight="bold" fill="#000">e</text>
<rect x="99.30" y="599.60" width="528.00" height="426.00" fill="none" stroke="#000" stroke-width="1.9"/>
<line x1="89.80" y1="611.52" x2="99.30" y2="611.52" stroke="#000" stroke-width="1.7"/>
<text x="44.36" y="620.32" font-size="30.50" font-weight="normal" fill="#000" textLength="40.70" lengthAdjust="spacingAndGlyphs">1.2</text>
<line x1="89.80" y1="680.94" x2="99.30" y2="680.94" stroke="#000" stroke-width="1.7"/>
<text x="44.22" y="689.74" font-size="30.50" font-weight="normal" fill="#000" textLength="40.70" lengthAdjust="spacingAndGlyphs">0.9</text>
<line x1="89.80" y1="750.36" x2="99.30" y2="750.36" stroke="#000" stroke-width="1.7"/>
<text x="44.07" y="759.16" font-size="30.50" font-weight="normal" fill="#000" textLength="40.70" lengthAdjust="spacingAndGlyphs">0.6</text>
<line x1="89.80" y1="819.78" x2="99.30" y2="819.78" stroke="#000" stroke-width="1.7"/>
<text x="44.07" y="828.58" font-size="30.50" font-weight="normal" fill="#000" textLength="40.70" lengthAdjust="spacingAndGlyphs">0.3</text>
<line x1="89.80" y1="889.20" x2="99.30" y2="889.20" stroke="#000" stroke-width="1.7"/>
<text x="43.93" y="898.00" font-size="30.50" font-weight="normal" fill="#000" textLength="40.70" lengthAdjust="spacingAndGlyphs">0.0</text>
<line x1="89.80" y1="958.62" x2="99.30" y2="958.62" stroke="#000" stroke-width="1.7"/>
<text x="34.41" y="967.42" font-size="30.50" font-weight="normal" fill="#000" textLength="50.46" lengthAdjust="spacingAndGlyphs">-0.3</text>
<line x1="131.90" y1="1025.60" x2="131.90" y2="1035.10" stroke="#000" stroke-width="1.7"/>
<text x="106.43" y="1063.00" font-size="30.50" font-weight="normal" fill="#000">300</text>
<line x1="297.03" y1="1025.60" x2="297.03" y2="1035.10" stroke="#000" stroke-width="1.7"/>
<text x="271.87" y="1063.00" font-size="30.50" font-weight="normal" fill="#000">400</text>
<line x1="462.16" y1="1025.60" x2="462.16" y2="1035.10" stroke="#000" stroke-width="1.7"/>
<text x="436.69" y="1063.00" font-size="30.50" font-weight="normal" fill="#000">500</text>
<line x1="627.29" y1="1025.60" x2="627.29" y2="1035.10" stroke="#000" stroke-width="1.7"/>
<text x="601.67" y="1063.00" font-size="30.50" font-weight="normal" fill="#000">600</text>
<path d="M132.7,875.0 L133.9,906.9 L135.0,886.3 L136.2,893.1 L137.3,892.3 L138.5,890.7 L139.7,903.2 L140.8,890.8 L142.0,895.2 L143.1,866.1 L144.3,887.6 L145.4,891.6 L146.6,891.2 L147.8,893.8 L148.9,896.5 L150.1,891.9 L151.2,885.9 L152.4,890.9 L153.5,882.6 L154.7,890.6 L155.8,889.0 L157.0,878.5 L158.2,885.4 L159.3,892.7 L160.5,890.5 L161.6,885.4 L162.8,875.8 L163.9,891.1 L165.1,890.9 L166.2,882.2 L167.4,895.4 L168.6,891.2 L169.7,883.1 L170.9,885.2 L172.0,888.6 L173.2,884.5 L174.3,908.8 L175.5,882.1 L176.7,895.9 L177.8,900.8 L179.0,887.3 L180.1,884.3 L181.3,892.3 L182.4,896.7 L183.6,889.0 L184.7,889.6 L185.9,879.4 L187.1,884.0 L188.2,887.9 L189.4,881.5 L190.5,890.6 L191.7,895.6 L192.8,885.1 L194.0,885.2 L195.1,890.7 L196.3,894.6 L197.5,887.6 L198.6,906.5 L199.8,884.4 L200.9,885.8 L202.1,900.6 L203.2,888.8 L204.4,895.9 L205.5,883.9 L206.7,903.3 L207.9,895.5 L209.0,884.3 L210.2,881.2 L211.3,904.2 L212.5,892.7 L213.6,886.9 L214.8,893.4 L216.0,878.2 L217.1,897.5 L218.3,886.7 L219.4,896.5 L220.6,879.4 L221.7,889.4 L222.9,891.8 L224.0,901.1 L225.2,877.5 L226.4,884.0 L227.5,884.0 L228.7,881.3 L229.8,886.8 L231.0,893.6 L232.1,894.8 L233.3,894.8 L234.4,879.7 L235.6,899.3 L236.8,893.3 L237.9,891.4 L239.1,887.6 L240.2,885.2 L241.4,897.9 L242.5,901.2 L243.7,889.2 L244.8,880.8 L246.0,883.9 L247.2,887.7 L248.3,891.4 L249.5,887.2 L250.6,890.9 L251.8,883.5 L252.9,894.7 L254.1,888.3 L255.3,890.0 L256.4,885.4 L257.6,887.6 L258.7,871.5 L259.9,878.8 L261.0,878.8 L262.2,903.4 L263.3,891.6 L264.5,893.4 L265.7,885.5 L266.8,905.0 L268.0,881.0 L269.1,881.8 L270.3,898.2 L271.4,896.0 L272.6,894.8 L273.7,888.9 L274.9,884.8 L276.1,875.0 L277.2,890.6 L278.4,883.9 L279.5,888.1 L280.7,877.0 L281.8,884.0 L283.0,879.7 L284.1,896.7 L285.3,890.5 L286.5,893.8 L287.6,874.5 L288.8,879.2 L289.9,885.6 L291.1,885.5 L292.2,875.1 L293.4,885.1 L294.6,885.4 L295.7,866.4 L296.9,837.7 L298.0,868.9 L299.2,870.4 L300.3,877.1 L301.5,877.6 L302.6,843.4 L303.8,834.1 L305.0,845.2 L306.1,836.0 L307.3,836.2 L308.4,832.2 L309.6,857.6 L310.7,835.3 L311.9,821.3 L313.0,832.8 L314.2,823.4 L315.4,825.3 L316.5,812.8 L317.7,790.3 L318.8,811.1 L320.0,805.6 L321.1,787.8 L322.3,791.2 L323.5,775.6 L324.6,843.8 L325.8,795.3 L326.9,821.1 L328.1,813.0 L329.2,803.4 L330.4,800.9 L331.5,801.3 L332.7,816.3 L333.9,790.8 L335.0,823.3 L336.2,820.5 L337.3,803.9 L338.5,826.9 L339.6,779.1 L340.8,798.2 L341.9,777.3 L343.1,814.8 L344.3,820.2 L345.4,809.9 L346.6,799.3 L347.7,821.5 L348.9,804.0 L350.0,810.1 L351.2,781.0 L352.3,819.8 L353.5,789.4 L354.7,817.9 L355.8,822.7 L357.0,817.6 L358.1,825.2 L359.3,801.2 L360.4,785.1 L361.6,799.4 L362.8,790.6 L363.9,772.7 L365.1,795.9 L366.2,796.8 L367.4,804.5 L368.5,827.3 L369.7,785.8 L370.8,829.0 L372.0,786.8 L373.2,798.0 L374.3,777.8 L375.5,798.1 L376.6,810.8 L377.8,789.9 L378.9,805.4 L380.1,798.4 L381.2,794.2 L382.4,796.8 L383.6,797.4 L384.7,808.1 L385.9,796.6 L387.0,830.0 L388.2,795.2 L389.3,812.9 L390.5,772.2 L391.6,769.2 L392.8,824.7 L394.0,787.9 L395.1,792.2 L396.3,807.9 L397.4,780.6 L398.6,797.9 L399.7,820.6 L400.9,794.7 L402.1,792.7 L403.2,788.3 L404.4,811.6 L405.5,779.7 L406.7,777.7 L407.8,810.4 L409.0,802.0 L410.1,792.1 L411.3,800.6 L412.5,760.6 L413.6,787.3 L414.8,808.5 L415.9,804.8 L417.1,792.2 L418.2,751.4 L419.4,794.4 L420.5,789.2 L421.7,782.6 L422.9,792.3 L424.0,752.1 L425.2,801.0 L426.3,778.9 L427.5,789.1 L428.6,781.2 L429.8,812.0 L431.0,760.2 L432.1,792.3 L433.3,788.9 L434.4,805.1 L435.6,800.8 L436.7,777.7 L437.9,769.6 L439.0,773.0 L440.2,764.4 L441.4,772.6 L442.5,784.4 L443.7,770.2 L444.8,774.3 L446.0,786.2 L447.1,771.8 L448.3,761.9 L449.4,780.1 L450.6,790.2 L451.8,771.4 L452.9,750.8 L454.1,787.3 L455.2,785.1 L456.4,785.7 L457.5,762.0 L458.7,815.0 L459.8,776.7 L461.0,762.2 L462.2,796.9 L463.3,758.2 L464.5,776.1 L465.6,796.2 L466.8,784.4 L467.9,815.9 L469.1,800.3 L470.3,760.1 L471.4,808.8 L472.6,762.8 L473.7,797.7 L474.9,780.6 L476.0,798.6 L477.2,839.8 L478.3,812.3 L479.5,800.6 L480.7,825.4 L481.8,830.3 L483.0,802.1 L484.1,821.2 L485.3,840.9 L486.4,824.8 L487.6,799.5 L488.7,824.2 L489.9,801.3 L491.1,792.5 L492.2,820.0 L493.4,841.6 L494.5,846.1 L495.7,825.3 L496.8,810.5 L498.0,822.1 L499.1,818.2 L500.3,836.4 L501.5,824.5 L502.6,838.8 L503.8,837.3 L504.9,855.0 L506.1,860.9 L507.2,842.9 L508.4,854.7 L509.6,853.1 L510.7,825.8 L511.9,840.2 L513.0,788.5 L514.2,823.6 L515.3,851.3 L516.5,827.5 L517.6,835.4 L518.8,854.2 L520.0,823.8 L521.1,857.0 L522.3,897.3 L523.4,831.1 L524.6,856.2 L525.7,820.4 L526.9,858.1 L528.0,868.0 L529.2,821.2 L530.4,867.4 L531.5,845.9 L532.7,824.9 L533.8,848.7 L535.0,852.7 L536.1,850.2 L537.3,838.2 L538.5,867.0 L539.6,843.7 L540.8,845.0 L541.9,816.9 L543.1,861.3 L544.2,871.2 L545.4,846.5 L546.5,866.2 L547.7,858.2 L548.9,862.7 L550.0,851.2 L551.2,877.1 L552.3,872.1 L553.5,902.3 L554.6,884.9 L555.8,849.4 L556.9,872.2 L558.1,867.3 L559.3,870.5 L560.4,832.9" fill="none" stroke="#000" stroke-width="1.35" stroke-linejoin="round"/>
<path d="M132.7,894.0 L133.9,890.5 L135.0,876.9 L136.2,884.3 L137.3,901.4 L138.5,889.2 L139.7,893.8 L140.8,888.1 L142.0,901.1 L143.1,887.4 L144.3,887.5 L145.4,877.5 L146.6,886.9 L147.8,885.4 L148.9,900.3 L150.1,872.5 L151.2,903.4 L152.4,881.0 L153.5,891.6 L154.7,895.7 L155.8,894.1 L157.0,894.2 L158.2,886.4 L159.3,890.0 L160.5,878.2 L161.6,902.7 L162.8,889.2 L163.9,895.8 L165.1,883.5 L166.2,904.9 L167.4,891.7 L168.6,887.6 L169.7,900.2 L170.9,881.9 L172.0,887.9 L173.2,881.7 L174.3,882.1 L175.5,896.5 L176.7,895.1 L177.8,890.7 L179.0,883.7 L180.1,882.9 L181.3,894.5 L182.4,893.7 L183.6,895.1 L184.7,893.5 L185.9,891.0 L187.1,890.2 L188.2,874.0 L189.4,892.9 L190.5,891.3 L191.7,885.8 L192.8,896.3 L194.0,891.9 L195.1,889.1 L196.3,883.5 L197.5,898.9 L198.6,879.0 L199.8,891.8 L200.9,887.9 L202.1,882.9 L203.2,884.3 L204.4,881.4 L205.5,887.9 L206.7,889.3 L207.9,886.9 L209.0,896.6 L210.2,880.2 L211.3,894.9 L212.5,898.5 L213.6,874.0 L214.8,890.2 L216.0,897.9 L217.1,875.5 L218.3,891.6 L219.4,881.3 L220.6,895.3 L221.7,891.0 L222.9,901.7 L224.0,903.3 L225.2,896.4 L226.4,889.8 L227.5,883.3 L228.7,871.2 L229.8,896.8 L231.0,881.7 L232.1,893.7 L233.3,890.3 L234.4,900.2 L235.6,900.2 L236.8,895.0 L237.9,898.0 L239.1,889.2 L240.2,894.4 L241.4,879.9 L242.5,888.1 L243.7,888.0 L244.8,880.8 L246.0,885.4 L247.2,889.5 L248.3,889.9 L249.5,890.1 L250.6,881.2 L251.8,883.4 L252.9,886.5 L254.1,883.3 L255.3,893.2 L256.4,885.4 L257.6,899.7 L258.7,879.2 L259.9,888.5 L261.0,887.8 L262.2,884.8 L263.3,889.3 L264.5,891.1 L265.7,880.4 L266.8,888.3 L268.0,896.0 L269.1,885.9 L270.3,901.8 L271.4,876.9 L272.6,890.5 L273.7,888.9 L274.9,872.5 L276.1,873.3 L277.2,888.3 L278.4,884.6 L279.5,881.1 L280.7,876.7 L281.8,890.2 L283.0,888.2 L284.1,880.1 L285.3,887.2 L286.5,882.2 L287.6,881.8 L288.8,895.3 L289.9,892.0 L291.1,908.1 L292.2,884.2 L293.4,866.4 L294.6,890.3 L295.7,859.9 L296.9,858.9 L298.0,869.9 L299.2,866.3 L300.3,861.9 L301.5,875.1 L302.6,862.2 L303.8,854.4 L305.0,837.9 L306.1,830.8 L307.3,857.4 L308.4,823.0 L309.6,851.0 L310.7,835.6 L311.9,821.8 L313.0,826.2 L314.2,825.1 L315.4,814.0 L316.5,827.0 L317.7,827.6 L318.8,818.2 L320.0,794.8 L321.1,815.1 L322.3,776.1 L323.5,810.9 L324.6,875.3 L325.8,827.0 L326.9,787.3 L328.1,821.5 L329.2,831.9 L330.4,841.4 L331.5,797.5 L332.7,803.2 L333.9,809.1 L335.0,813.2 L336.2,792.6 L337.3,804.2 L338.5,843.9 L339.6,803.9 L340.8,815.1 L341.9,819.9 L343.1,802.1 L344.3,815.9 L345.4,873.5 L346.6,784.5 L347.7,794.1 L348.9,816.3 L350.0,820.5 L351.2,808.1 L352.3,837.2 L353.5,805.2 L354.7,815.1 L355.8,816.9 L357.0,827.5 L358.1,822.0 L359.3,786.3 L360.4,781.1 L361.6,796.8 L362.8,807.0 L363.9,822.9 L365.1,791.1 L366.2,773.1 L367.4,836.1 L368.5,780.9 L369.7,846.2 L370.8,809.9 L372.0,795.2 L373.2,829.2 L374.3,831.8 L375.5,797.9 L376.6,783.9 L377.8,810.1 L378.9,773.9 L380.1,815.3 L381.2,765.0 L382.4,796.8 L383.6,794.1 L384.7,786.2 L385.9,791.6 L387.0,761.2 L388.2,753.7 L389.3,786.0 L390.5,799.6 L391.6,819.0 L392.8,810.3 L394.0,794.9 L395.1,796.7 L396.3,795.2 L397.4,794.3 L398.6,784.8 L399.7,821.1 L400.9,814.8 L402.1,772.7 L403.2,778.3 L404.4,805.4 L405.5,769.5 L406.7,808.4 L407.8,800.1 L409.0,831.1 L410.1,778.6 L411.3,795.6 L412.5,774.4 L413.6,781.6 L414.8,793.7 L415.9,792.4 L417.1,772.2 L418.2,798.9 L419.4,798.8 L420.5,794.5 L421.7,780.0 L422.9,777.7 L424.0,758.2 L425.2,797.5 L426.3,771.1 L427.5,808.8 L428.6,784.1 L429.8,793.3 L431.0,761.2 L432.1,782.8 L433.3,803.2 L434.4,782.6 L435.6,786.7 L436.7,799.3 L437.9,798.5 L439.0,810.8 L440.2,737.6 L441.4,788.8 L442.5,771.8 L443.7,813.5 L444.8,811.5 L446.0,792.8 L447.1,792.3 L448.3,773.2 L449.4,808.3 L450.6,777.5 L451.8,757.9 L452.9,805.3 L454.1,769.0 L455.2,805.4 L456.4,779.3 L457.5,778.5 L458.7,751.1 L459.8,798.5 L461.0,781.2 L462.2,763.5 L463.3,808.1 L464.5,786.2 L465.6,804.1 L466.8,801.8 L467.9,775.5 L469.1,776.1 L470.3,740.2 L471.4,765.2 L472.6,768.5 L473.7,798.6 L474.9,802.8 L476.0,795.7 L477.2,844.7 L478.3,768.8 L479.5,816.2 L480.7,825.4 L481.8,815.1 L483.0,790.4 L484.1,784.7 L485.3,818.1 L486.4,803.7 L487.6,814.9 L488.7,834.9 L489.9,813.5 L491.1,817.8 L492.2,850.2 L493.4,799.8 L494.5,853.9 L495.7,819.7 L496.8,845.9 L498.0,842.3 L499.1,841.1 L500.3,814.4 L501.5,853.9 L502.6,834.0 L503.8,800.7 L504.9,845.9 L506.1,833.8 L507.2,821.1 L508.4,846.6 L509.6,826.8 L510.7,850.1 L511.9,824.3 L513.0,837.5 L514.2,857.8 L515.3,812.3 L516.5,842.5 L517.6,846.8 L518.8,860.1 L520.0,851.9 L521.1,845.2 L522.3,840.5 L523.4,823.0 L524.6,871.1 L525.7,852.7 L526.9,823.0 L528.0,843.6 L529.2,839.8 L530.4,817.1 L531.5,842.5 L532.7,840.6 L533.8,851.2 L535.0,816.3 L536.1,831.1 L537.3,866.6 L538.5,842.4 L539.6,875.8 L540.8,833.7 L541.9,842.4 L543.1,858.7 L544.2,863.8 L545.4,890.1 L546.5,848.0 L547.7,865.5 L548.9,871.0 L550.0,858.8 L551.2,880.6 L552.3,881.7 L553.5,885.1 L554.6,894.2 L555.8,848.7 L556.9,875.9 L558.1,875.1 L559.3,853.6 L560.4,895.6" fill="none" stroke="#0b8282" stroke-width="1.35" stroke-linejoin="round"/>
<line x1="104.40" y1="621.70" x2="166.60" y2="621.70" stroke="#6a6a6a" stroke-width="1.5"/>
<line x1="104.40" y1="659.40" x2="166.60" y2="659.40" stroke="#0b8282" stroke-width="1.4"/>
<text x="182.19" y="631.20" font-size="28.23" font-weight="normal" fill="#000">+ PSFL2915 (500 nM)</text>
<text x="182.17" y="669.30" font-size="28.50" font-weight="normal" fill="#000">+ PSFL2915 and ATP (10 <tspan style="font-family:'Liberation Serif', serif">μ</tspan>M)</text>
<text x="300.84" y="993.30" font-size="31.55" font-weight="normal" fill="#000">WT hP2X3</text>
<text x="249.85" y="1110.60" font-size="30.09" font-weight="normal" fill="#000">Wavelength (nm)</text>
<text transform="translate(34.00,892.19) rotate(-90)" x="0" y="0" font-size="32.38" font-weight="normal" fill="#000">Normalized F</text>
<text x="-0.51" y="1126.40" font-size="41.50" font-weight="bold" fill="#000">h</text>
<rect x="97.10" y="1135.20" width="542.50" height="462.60" fill="none" stroke="#000" stroke-width="1.9"/>
<line x1="87.60" y1="1135.84" x2="97.10" y2="1135.84" stroke="#000" stroke-width="1.7"/>
<text x="42.82" y="1145.14" font-size="30.80" font-weight="normal" fill="#000" textLength="39.82" lengthAdjust="spacingAndGlyphs">1.2</text>
<line x1="87.60" y1="1234.63" x2="97.10" y2="1234.63" stroke="#000" stroke-width="1.7"/>
<text x="42.67" y="1243.93" font-size="30.80" font-weight="normal" fill="#000" textLength="39.82" lengthAdjust="spacingAndGlyphs">0.9</text>
<line x1="87.60" y1="1333.42" x2="97.10" y2="1333.42" stroke="#000" stroke-width="1.7"/>
<text x="42.53" y="1342.72" font-size="30.80" font-weight="normal" fill="#000" textLength="39.82" lengthAdjust="spacingAndGlyphs">0.6</text>
<line x1="87.60" y1="1432.21" x2="97.10" y2="1432.21" stroke="#000" stroke-width="1.7"/>
<text x="42.53" y="1441.51" font-size="30.80" font-weight="normal" fill="#000" textLength="39.82" lengthAdjust="spacingAndGlyphs">0.3</text>
<line x1="87.60" y1="1531.00" x2="97.10" y2="1531.00" stroke="#000" stroke-width="1.7"/>
<text x="42.39" y="1540.30" font-size="30.80" font-weight="normal" fill="#000" textLength="39.82" lengthAdjust="spacingAndGlyphs">0.0</text>
<line x1="131.20" y1="1597.80" x2="131.20" y2="1607.30" stroke="#000" stroke-width="1.7"/>
<text x="105.48" y="1636.50" font-size="30.80" font-weight="normal" fill="#000">300</text>
<line x1="300.67" y1="1597.80" x2="300.67" y2="1607.30" stroke="#000" stroke-width="1.7"/>
<text x="275.26" y="1636.50" font-size="30.80" font-weight="normal" fill="#000">400</text>
<line x1="470.14" y1="1597.80" x2="470.14" y2="1607.30" stroke="#000" stroke-width="1.7"/>
<text x="444.42" y="1636.50" font-size="30.80" font-weight="normal" fill="#000">500</text>
<line x1="639.61" y1="1597.80" x2="639.61" y2="1607.30" stroke="#000" stroke-width="1.7"/>
<text x="613.74" y="1636.50" font-size="30.80" font-weight="normal" fill="#000">600</text>
<path d="M132.0,1533.4 L133.2,1534.9 L134.4,1531.7 L135.6,1529.8 L136.8,1527.6 L138.0,1530.7 L139.2,1532.6 L140.4,1533.3 L141.5,1528.8 L142.7,1526.2 L143.9,1530.2 L145.1,1534.7 L146.3,1533.8 L147.5,1526.3 L148.7,1530.4 L149.8,1536.1 L151.0,1531.2 L152.2,1534.4 L153.4,1532.9 L154.6,1532.4 L155.8,1533.1 L157.0,1529.4 L158.1,1531.2 L159.3,1532.7 L160.5,1529.8 L161.7,1528.5 L162.9,1535.9 L164.1,1531.8 L165.3,1533.9 L166.4,1531.5 L167.6,1534.8 L168.8,1530.9 L170.0,1531.1 L171.2,1531.9 L172.4,1534.1 L173.6,1532.2 L174.8,1534.2 L175.9,1535.0 L177.1,1530.3 L178.3,1534.3 L179.5,1527.5 L180.7,1528.9 L181.9,1536.9 L183.1,1530.2 L184.2,1534.3 L185.4,1530.9 L186.6,1530.9 L187.8,1536.9 L189.0,1531.7 L190.2,1531.8 L191.4,1528.1 L192.5,1534.5 L193.7,1528.8 L194.9,1534.3 L196.1,1532.0 L197.3,1533.5 L198.5,1526.7 L199.7,1529.3 L200.9,1523.8 L202.0,1529.1 L203.2,1528.5 L204.4,1528.5 L205.6,1532.8 L206.8,1531.2 L208.0,1527.0 L209.2,1532.2 L210.3,1530.4 L211.5,1531.1 L212.7,1529.2 L213.9,1532.1 L215.1,1531.5 L216.3,1530.3 L217.5,1530.7 L218.6,1533.6 L219.8,1528.3 L221.0,1534.8 L222.2,1534.6 L223.4,1534.8 L224.6,1528.1 L225.8,1532.1 L227.0,1533.9 L228.1,1534.4 L229.3,1529.8 L230.5,1534.1 L231.7,1534.8 L232.9,1529.2 L234.1,1534.5 L235.3,1532.0 L236.4,1531.0 L237.6,1532.3 L238.8,1531.2 L240.0,1527.0 L241.2,1532.5 L242.4,1534.7 L243.6,1536.4 L244.7,1531.6 L245.9,1532.0 L247.1,1530.2 L248.3,1532.4 L249.5,1532.4 L250.7,1533.1 L251.9,1532.5 L253.0,1530.5 L254.2,1532.1 L255.4,1530.7 L256.6,1525.4 L257.8,1529.6 L259.0,1535.7 L260.2,1525.9 L261.4,1530.0 L262.5,1533.8 L263.7,1528.3 L264.9,1530.9 L266.1,1532.8 L267.3,1532.9 L268.5,1533.9 L269.7,1530.9 L270.8,1527.8 L272.0,1532.0 L273.2,1529.8 L274.4,1525.4 L275.6,1534.6 L276.8,1530.2 L278.0,1531.9 L279.1,1534.1 L280.3,1534.0 L281.5,1531.0 L282.7,1529.7 L283.9,1532.6 L285.1,1530.8 L286.3,1528.9 L287.5,1530.1 L288.6,1528.4 L289.8,1529.6 L291.0,1529.6 L292.2,1525.6 L293.4,1528.2 L294.6,1528.8 L295.8,1526.1 L296.9,1530.1 L298.1,1527.4 L299.3,1523.0 L300.5,1522.6 L301.7,1517.2 L302.9,1519.2 L304.1,1521.2 L305.2,1507.4 L306.4,1507.4 L307.6,1511.8 L308.8,1500.8 L310.0,1500.6 L311.2,1501.7 L312.4,1491.2 L313.5,1486.0 L314.7,1472.4 L315.9,1476.2 L317.1,1468.5 L318.3,1463.6 L319.5,1459.5 L320.7,1457.2 L321.9,1447.7 L323.0,1439.5 L324.2,1437.6 L325.4,1440.8 L326.6,1438.1 L327.8,1428.4 L329.0,1431.6 L330.2,1430.7 L331.3,1434.9 L332.5,1417.6 L333.7,1421.8 L334.9,1429.7 L336.1,1419.7 L337.3,1416.3 L338.5,1432.1 L339.6,1422.2 L340.8,1420.1 L342.0,1413.9 L343.2,1415.8 L344.4,1412.6 L345.6,1408.1 L346.8,1395.6 L348.0,1390.5 L349.1,1399.2 L350.3,1397.4 L351.5,1377.0 L352.7,1391.6 L353.9,1387.4 L355.1,1382.3 L356.3,1378.0 L357.4,1373.1 L358.6,1373.8 L359.8,1377.3 L361.0,1367.8 L362.2,1365.8 L363.4,1355.1 L364.6,1360.6 L365.7,1363.4 L366.9,1358.9 L368.1,1344.1 L369.3,1350.7 L370.5,1355.6 L371.7,1346.3 L372.9,1341.3 L374.1,1333.5 L375.2,1341.4 L376.4,1331.3 L377.6,1328.4 L378.8,1333.0 L380.0,1328.4 L381.2,1317.0 L382.4,1315.0 L383.5,1316.6 L384.7,1316.7 L385.9,1310.9 L387.1,1315.0 L388.3,1312.9 L389.5,1314.6 L390.7,1308.8 L391.8,1307.3 L393.0,1292.3 L394.2,1304.1 L395.4,1295.6 L396.6,1293.5 L397.8,1298.6 L399.0,1290.5 L400.1,1304.1 L401.3,1291.8 L402.5,1286.4 L403.7,1299.6 L404.9,1292.0 L406.1,1279.9 L407.3,1284.2 L408.5,1286.2 L409.6,1281.0 L410.8,1279.9 L412.0,1272.7 L413.2,1272.6 L414.4,1274.6 L415.6,1275.0 L416.8,1270.8 L417.9,1263.0 L419.1,1266.1 L420.3,1263.0 L421.5,1264.8 L422.7,1268.2 L423.9,1263.7 L425.1,1255.6 L426.2,1256.3 L427.4,1259.1 L428.6,1261.8 L429.8,1253.9 L431.0,1256.0 L432.2,1256.0 L433.4,1255.9 L434.6,1253.1 L435.7,1253.0 L436.9,1250.5 L438.1,1251.6 L439.3,1250.6 L440.5,1254.0 L441.7,1260.2 L442.9,1259.8 L444.0,1258.2 L445.2,1262.6 L446.4,1259.1 L447.6,1256.8 L448.8,1266.2 L450.0,1271.2 L451.2,1258.0 L452.3,1263.9 L453.5,1261.4 L454.7,1272.2 L455.9,1259.4 L457.1,1265.4 L458.3,1270.8 L459.5,1273.2 L460.6,1272.4 L461.8,1275.3 L463.0,1278.6 L464.2,1285.2 L465.4,1277.0 L466.6,1285.8 L467.8,1288.0 L469.0,1290.7 L470.1,1304.8 L471.3,1293.3 L472.5,1299.1 L473.7,1300.8 L474.9,1301.0 L476.1,1307.6 L477.3,1301.1 L478.4,1310.0 L479.6,1312.8 L480.8,1314.5 L482.0,1311.6 L483.2,1310.8 L484.4,1318.8 L485.6,1324.8 L486.7,1314.8 L487.9,1326.8 L489.1,1318.7 L490.3,1326.8 L491.5,1332.0 L492.7,1334.1 L493.9,1331.3 L495.1,1331.6 L496.2,1338.9 L497.4,1336.0 L498.6,1333.0 L499.8,1345.9 L501.0,1352.5 L502.2,1354.4 L503.4,1358.3 L504.5,1356.9 L505.7,1359.1 L506.9,1363.8 L508.1,1357.1 L509.3,1373.4 L510.5,1369.3 L511.7,1355.7 L512.8,1362.2 L514.0,1366.9 L515.2,1369.5 L516.4,1365.8 L517.6,1373.8 L518.8,1378.2 L520.0,1386.5 L521.2,1383.5 L522.3,1388.8 L523.5,1391.0 L524.7,1393.4 L525.9,1392.6 L527.1,1396.2 L528.3,1393.0 L529.5,1405.4 L530.6,1401.9 L531.8,1394.4 L533.0,1404.6 L534.2,1401.1 L535.4,1403.3 L536.6,1404.3 L537.8,1408.8 L538.9,1420.4 L540.1,1417.1 L541.3,1419.5 L542.5,1426.7 L543.7,1423.5 L544.9,1429.0 L546.1,1432.8 L547.2,1425.6 L548.4,1428.2 L549.6,1432.5 L550.8,1435.1 L552.0,1434.6 L553.2,1435.3 L554.4,1436.8 L555.6,1436.8 L556.7,1440.4 L557.9,1438.5 L559.1,1439.7 L560.3,1442.3 L561.5,1448.7 L562.7,1450.3 L563.9,1446.8 L565.0,1449.5 L566.2,1448.9 L567.4,1459.5 L568.6,1460.5 L569.8,1447.2 L571.0,1447.2" fill="none" stroke="#000" stroke-width="1.35" stroke-linejoin="round"/>
<path d="M132.0,1527.2 L133.2,1524.6 L134.4,1540.2 L135.6,1531.5 L136.8,1527.3 L138.0,1526.1 L139.2,1528.6 L140.4,1525.6 L141.5,1529.9 L142.7,1529.0 L143.9,1530.4 L145.1,1534.9 L146.3,1534.1 L147.5,1529.6 L148.7,1533.1 L149.8,1526.4 L151.0,1526.3 L152.2,1524.5 L153.4,1531.1 L154.6,1526.0 L155.8,1534.3 L157.0,1534.0 L158.1,1530.7 L159.3,1530.0 L160.5,1536.8 L161.7,1537.3 L162.9,1529.7 L164.1,1534.1 L165.3,1526.6 L166.4,1529.6 L167.6,1529.9 L168.8,1530.2 L170.0,1527.8 L171.2,1531.6 L172.4,1527.1 L173.6,1532.9 L174.8,1531.8 L175.9,1533.5 L177.1,1528.8 L178.3,1530.9 L179.5,1534.1 L180.7,1523.7 L181.9,1532.3 L183.1,1531.4 L184.2,1529.6 L185.4,1524.7 L186.6,1531.5 L187.8,1528.5 L189.0,1530.6 L190.2,1536.3 L191.4,1528.1 L192.5,1527.3 L193.7,1531.9 L194.9,1531.1 L196.1,1536.4 L197.3,1536.5 L198.5,1532.4 L199.7,1528.7 L200.9,1532.7 L202.0,1529.9 L203.2,1527.5 L204.4,1530.7 L205.6,1528.9 L206.8,1525.8 L208.0,1535.5 L209.2,1528.3 L210.3,1537.8 L211.5,1529.4 L212.7,1530.3 L213.9,1533.0 L215.1,1534.9 L216.3,1531.2 L217.5,1532.5 L218.6,1530.6 L219.8,1534.3 L221.0,1529.0 L222.2,1534.8 L223.4,1532.1 L224.6,1532.4 L225.8,1526.4 L227.0,1536.4 L228.1,1532.5 L229.3,1526.7 L230.5,1533.4 L231.7,1535.5 L232.9,1530.0 L234.1,1532.1 L235.3,1528.0 L236.4,1534.3 L237.6,1530.3 L238.8,1528.6 L240.0,1527.2 L241.2,1535.0 L242.4,1525.8 L243.6,1534.3 L244.7,1536.5 L245.9,1534.5 L247.1,1530.4 L248.3,1532.2 L249.5,1529.4 L250.7,1529.2 L251.9,1529.8 L253.0,1531.9 L254.2,1524.4 L255.4,1539.0 L256.6,1537.3 L257.8,1532.8 L259.0,1535.5 L260.2,1540.3 L261.4,1533.9 L262.5,1533.7 L263.7,1539.9 L264.9,1527.9 L266.1,1526.3 L267.3,1526.5 L268.5,1532.8 L269.7,1530.5 L270.8,1535.1 L272.0,1530.3 L273.2,1533.4 L274.4,1529.5 L275.6,1532.2 L276.8,1527.3 L278.0,1528.0 L279.1,1526.5 L280.3,1536.8 L281.5,1537.6 L282.7,1529.5 L283.9,1533.1 L285.1,1529.6 L286.3,1529.9 L287.5,1530.3 L288.6,1527.7 L289.8,1529.0 L291.0,1529.3 L292.2,1534.2 L293.4,1523.7 L294.6,1528.7 L295.8,1524.1 L296.9,1526.1 L298.1,1521.5 L299.3,1524.9 L300.5,1523.7 L301.7,1521.9 L302.9,1523.1 L304.1,1520.3 L305.2,1516.2 L306.4,1513.8 L307.6,1515.6 L308.8,1497.2 L310.0,1510.9 L311.2,1504.8 L312.4,1487.5 L313.5,1501.3 L314.7,1490.6 L315.9,1488.3 L317.1,1490.6 L318.3,1494.7 L319.5,1491.9 L320.7,1478.4 L321.9,1471.6 L323.0,1485.8 L324.2,1466.7 L325.4,1469.5 L326.6,1455.0 L327.8,1457.2 L329.0,1463.5 L330.2,1459.5 L331.3,1454.7 L332.5,1443.3 L333.7,1428.6 L334.9,1448.5 L336.1,1448.5 L337.3,1441.9 L338.5,1445.5 L339.6,1438.1 L340.8,1438.2 L342.0,1439.6 L343.2,1444.4 L344.4,1433.5 L345.6,1424.4 L346.8,1428.7 L348.0,1413.6 L349.1,1415.7 L350.3,1422.1 L351.5,1403.3 L352.7,1425.1 L353.9,1402.6 L355.1,1394.0 L356.3,1409.3 L357.4,1405.2 L358.6,1393.5 L359.8,1386.5 L361.0,1392.2 L362.2,1391.1 L363.4,1382.5 L364.6,1385.4 L365.7,1395.2 L366.9,1383.7 L368.1,1379.4 L369.3,1390.0 L370.5,1371.9 L371.7,1379.9 L372.9,1365.3 L374.1,1382.6 L375.2,1375.8 L376.4,1378.6 L377.6,1353.0 L378.8,1350.8 L380.0,1346.8 L381.2,1344.5 L382.4,1347.1 L383.5,1344.8 L384.7,1364.7 L385.9,1345.1 L387.1,1349.9 L388.3,1346.0 L389.5,1351.5 L390.7,1327.4 L391.8,1335.0 L393.0,1346.8 L394.2,1327.5 L395.4,1330.8 L396.6,1337.3 L397.8,1329.2 L399.0,1331.5 L400.1,1342.8 L401.3,1334.4 L402.5,1315.2 L403.7,1313.9 L404.9,1311.8 L406.1,1321.5 L407.3,1313.9 L408.5,1305.5 L409.6,1297.3 L410.8,1307.7 L412.0,1308.6 L413.2,1288.9 L414.4,1297.2 L415.6,1300.1 L416.8,1302.2 L417.9,1300.6 L419.1,1280.5 L420.3,1285.6 L421.5,1297.5 L422.7,1304.6 L423.9,1279.6 L425.1,1280.5 L426.2,1283.6 L427.4,1286.7 L428.6,1309.4 L429.8,1303.4 L431.0,1286.6 L432.2,1292.9 L433.4,1287.4 L434.6,1293.1 L435.7,1293.3 L436.9,1282.1 L438.1,1289.3 L439.3,1285.0 L440.5,1281.8 L441.7,1281.1 L442.9,1272.3 L444.0,1269.5 L445.2,1292.1 L446.4,1281.7 L447.6,1284.0 L448.8,1271.1 L450.0,1285.8 L451.2,1269.1 L452.3,1268.8 L453.5,1269.7 L454.7,1284.9 L455.9,1280.2 L457.1,1289.5 L458.3,1278.7 L459.5,1275.7 L460.6,1298.8 L461.8,1294.7 L463.0,1290.9 L464.2,1295.8 L465.4,1280.4 L466.6,1296.2 L467.8,1294.7 L469.0,1308.2 L470.1,1287.3 L471.3,1300.5 L472.5,1296.7 L473.7,1303.9 L474.9,1324.2 L476.1,1321.1 L477.3,1319.8 L478.4,1306.2 L479.6,1316.7 L480.8,1311.0 L482.0,1314.5 L483.2,1317.1 L484.4,1313.7 L485.6,1322.3 L486.7,1340.2 L487.9,1334.3 L489.1,1316.6 L490.3,1342.3 L491.5,1323.7 L492.7,1323.6 L493.9,1345.1 L495.1,1339.4 L496.2,1356.4 L497.4,1339.6 L498.6,1354.7 L499.8,1361.1 L501.0,1355.1 L502.2,1357.5 L503.4,1360.4 L504.5,1355.4 L505.7,1359.9 L506.9,1365.5 L508.1,1353.1 L509.3,1341.9 L510.5,1363.4 L511.7,1371.4 L512.8,1375.5 L514.0,1364.3 L515.2,1373.8 L516.4,1373.8 L517.6,1393.3 L518.8,1388.2 L520.0,1390.8 L521.2,1375.0 L522.3,1387.2 L523.5,1408.0 L524.7,1384.5 L525.9,1380.8 L527.1,1381.1 L528.3,1418.1 L529.5,1394.7 L530.6,1390.9 L531.8,1394.5 L533.0,1403.5 L534.2,1418.8 L535.4,1408.9 L536.6,1409.8 L537.8,1404.0 L538.9,1405.3 L540.1,1414.7 L541.3,1407.2 L542.5,1425.3 L543.7,1424.0 L544.9,1420.2 L546.1,1416.9 L547.2,1426.1 L548.4,1414.2 L549.6,1422.6 L550.8,1435.6 L552.0,1428.1 L553.2,1437.8 L554.4,1439.9 L555.6,1445.2 L556.7,1422.4 L557.9,1428.0 L559.1,1450.9 L560.3,1429.0 L561.5,1431.7 L562.7,1444.4 L563.9,1437.6 L565.0,1422.3 L566.2,1438.5 L567.4,1436.9 L568.6,1430.4 L569.8,1448.4 L571.0,1450.0" fill="none" stroke="#ff1010" stroke-width="1.35" stroke-linejoin="round"/>
<line x1="423.90" y1="1218.90" x2="423.90" y2="1590.70" stroke="#000" stroke-width="3.6" stroke-dasharray="10,4.5"/>
<line x1="445.70" y1="1218.90" x2="445.70" y2="1590.70" stroke="#ff1010" stroke-width="3.6" stroke-dasharray="10,4.5"/>
<line x1="111.90" y1="1167.50" x2="177.00" y2="1167.50" stroke="#000" stroke-width="1.2"/>
<line x1="111.90" y1="1209.00" x2="177.00" y2="1209.00" stroke="#ff1010" stroke-width="1.2"/>
<text x="184.20" y="1179.20" font-size="30.05" font-weight="normal" fill="#000">Control</text>
<text x="184.18" y="1219.60" font-size="30.32" font-weight="normal" fill="#000">+ ATP (10 <tspan style="font-family:'Liberation Serif', serif">μ</tspan>M)</text>
<text x="119.89" y="1391.10" font-size="31.59" font-weight="normal" fill="#000">hP2X3</text>
<text x="213.92" y="1381.70" font-size="21.02" font-weight="normal" fill="#000">L297ANAP</text>
<text x="235.55" y="1685.70" font-size="29.51" font-weight="normal" fill="#000">Wavelength (nm)</text>
<text transform="translate(37.00,1448.94) rotate(-90)" x="0" y="0" font-size="30.49" font-weight="normal" fill="#000">Normalized F</text>
<text x="687.04" y="1131.70" font-size="41.50" font-weight="bold" fill="#000">i</text>
<rect x="765.70" y="1138.70" width="536.30" height="458.30" fill="none" stroke="#000" stroke-width="1.9"/>
<line x1="756.20" y1="1138.38" x2="765.70" y2="1138.38" stroke="#000" stroke-width="1.7"/>
<text x="717.06" y="1147.38" font-size="30.50" font-weight="normal" fill="#000" textLength="35.83" lengthAdjust="spacingAndGlyphs">1.2</text>
<line x1="756.20" y1="1236.66" x2="765.70" y2="1236.66" stroke="#000" stroke-width="1.7"/>
<text x="716.94" y="1245.66" font-size="30.50" font-weight="normal" fill="#000" textLength="35.83" lengthAdjust="spacingAndGlyphs">0.9</text>
<line x1="756.20" y1="1334.94" x2="765.70" y2="1334.94" stroke="#000" stroke-width="1.7"/>
<text x="716.81" y="1343.94" font-size="30.50" font-weight="normal" fill="#000" textLength="35.83" lengthAdjust="spacingAndGlyphs">0.6</text>
<line x1="756.20" y1="1433.22" x2="765.70" y2="1433.22" stroke="#000" stroke-width="1.7"/>
<text x="716.81" y="1442.22" font-size="30.50" font-weight="normal" fill="#000" textLength="35.83" lengthAdjust="spacingAndGlyphs">0.3</text>
<line x1="756.20" y1="1531.50" x2="765.70" y2="1531.50" stroke="#000" stroke-width="1.7"/>
<text x="716.68" y="1540.50" font-size="30.50" font-weight="normal" fill="#000" textLength="35.83" lengthAdjust="spacingAndGlyphs">0.0</text>
<line x1="800.10" y1="1597.00" x2="800.10" y2="1606.50" stroke="#000" stroke-width="1.7"/>
<text x="777.94" y="1635.30" font-size="30.50" font-weight="normal" fill="#000" textLength="44.27" lengthAdjust="spacingAndGlyphs">300</text>
<line x1="967.40" y1="1597.00" x2="967.40" y2="1606.50" stroke="#000" stroke-width="1.7"/>
<text x="945.51" y="1635.30" font-size="30.50" font-weight="normal" fill="#000" textLength="44.27" lengthAdjust="spacingAndGlyphs">400</text>
<line x1="1134.70" y1="1597.00" x2="1134.70" y2="1606.50" stroke="#000" stroke-width="1.7"/>
<text x="1112.54" y="1635.30" font-size="30.50" font-weight="normal" fill="#000" textLength="44.27" lengthAdjust="spacingAndGlyphs">500</text>
<line x1="1302.00" y1="1597.00" x2="1302.00" y2="1606.50" stroke="#000" stroke-width="1.7"/>
<text x="1279.71" y="1635.30" font-size="30.50" font-weight="normal" fill="#000" textLength="44.27" lengthAdjust="spacingAndGlyphs">600</text>
<path d="M800.9,1531.5 L802.1,1529.3 L803.3,1533.5 L804.4,1537.9 L805.6,1534.8 L806.8,1538.6 L808.0,1531.1 L809.1,1521.8 L810.3,1535.0 L811.5,1536.0 L812.6,1528.0 L813.8,1528.9 L815.0,1530.7 L816.2,1538.2 L817.3,1531.7 L818.5,1526.5 L819.7,1541.2 L820.8,1534.8 L822.0,1545.2 L823.2,1540.8 L824.4,1544.8 L825.5,1533.2 L826.7,1540.6 L827.9,1529.5 L829.0,1530.4 L830.2,1532.8 L831.4,1549.6 L832.6,1535.4 L833.7,1531.8 L834.9,1530.7 L836.1,1542.5 L837.2,1534.9 L838.4,1538.6 L839.6,1537.3 L840.8,1523.9 L841.9,1537.3 L843.1,1531.7 L844.3,1525.1 L845.4,1535.7 L846.6,1532.3 L847.8,1530.7 L849.0,1531.0 L850.1,1540.3 L851.3,1531.0 L852.5,1521.7 L853.6,1542.7 L854.8,1525.3 L856.0,1530.6 L857.1,1536.1 L858.3,1517.1 L859.5,1526.0 L860.7,1540.1 L861.8,1531.0 L863.0,1527.3 L864.2,1532.9 L865.3,1526.6 L866.5,1532.0 L867.7,1526.7 L868.9,1521.1 L870.0,1536.4 L871.2,1530.0 L872.4,1534.8 L873.5,1530.6 L874.7,1540.1 L875.9,1535.7 L877.1,1532.9 L878.2,1525.0 L879.4,1523.2 L880.6,1541.0 L881.7,1537.2 L882.9,1526.8 L884.1,1545.9 L885.3,1534.8 L886.4,1532.2 L887.6,1522.4 L888.8,1526.5 L889.9,1533.9 L891.1,1534.2 L892.3,1533.3 L893.5,1520.5 L894.6,1534.6 L895.8,1533.7 L897.0,1529.0 L898.1,1532.4 L899.3,1532.9 L900.5,1539.5 L901.7,1531.6 L902.8,1534.7 L904.0,1523.1 L905.2,1526.8 L906.3,1531.7 L907.5,1526.7 L908.7,1533.9 L909.8,1523.9 L911.0,1531.5 L912.2,1527.3 L913.4,1540.8 L914.5,1529.0 L915.7,1543.7 L916.9,1546.2 L918.0,1533.7 L919.2,1538.0 L920.4,1530.3 L921.6,1515.3 L922.7,1537.5 L923.9,1536.0 L925.1,1530.0 L926.2,1527.9 L927.4,1532.8 L928.6,1533.0 L929.8,1526.4 L930.9,1527.8 L932.1,1538.9 L933.3,1532.1 L934.4,1531.2 L935.6,1539.1 L936.8,1529.6 L938.0,1537.7 L939.1,1524.5 L940.3,1530.1 L941.5,1530.9 L942.6,1535.8 L943.8,1532.4 L945.0,1545.9 L946.2,1539.7 L947.3,1528.9 L948.5,1546.8 L949.7,1525.4 L950.8,1544.1 L952.0,1526.0 L953.2,1537.6 L954.4,1525.9 L955.5,1530.6 L956.7,1542.6 L957.9,1522.5 L959.0,1521.1 L960.2,1532.0 L961.4,1533.5 L962.5,1532.7 L963.7,1538.5 L964.9,1523.6 L966.1,1535.4 L967.2,1531.9 L968.4,1535.4 L969.6,1532.0 L970.7,1535.0 L971.9,1512.5 L973.1,1521.6 L974.3,1509.8 L975.4,1515.7 L976.6,1519.1 L977.8,1512.7 L978.9,1511.8 L980.1,1503.1 L981.3,1503.8 L982.5,1500.0 L983.6,1508.6 L984.8,1499.7 L986.0,1468.9 L987.1,1493.0 L988.3,1495.0 L989.5,1475.5 L990.7,1459.2 L991.8,1492.8 L993.0,1474.3 L994.2,1477.7 L995.3,1490.8 L996.5,1454.6 L997.7,1462.7 L998.9,1459.1 L1000.0,1468.7 L1001.2,1448.7 L1002.4,1460.6 L1003.5,1452.0 L1004.7,1463.4 L1005.9,1462.3 L1007.1,1421.9 L1008.2,1446.3 L1009.4,1431.7 L1010.6,1433.3 L1011.7,1436.1 L1012.9,1433.9 L1014.1,1413.9 L1015.2,1424.4 L1016.4,1419.0 L1017.6,1413.2 L1018.8,1393.5 L1019.9,1398.0 L1021.1,1399.7 L1022.3,1410.9 L1023.4,1420.2 L1024.6,1383.1 L1025.8,1380.1 L1027.0,1394.0 L1028.1,1381.7 L1029.3,1375.8 L1030.5,1372.8 L1031.6,1369.2 L1032.8,1387.2 L1034.0,1355.8 L1035.2,1394.9 L1036.3,1362.5 L1037.5,1366.5 L1038.7,1359.5 L1039.8,1343.3 L1041.0,1347.8 L1042.2,1385.2 L1043.4,1391.8 L1044.5,1353.5 L1045.7,1379.1 L1046.9,1363.0 L1048.0,1349.0 L1049.2,1384.3 L1050.4,1389.8 L1051.6,1353.6 L1052.7,1355.6 L1053.9,1358.7 L1055.1,1353.4 L1056.2,1365.5 L1057.4,1374.0 L1058.6,1353.0 L1059.7,1363.7 L1060.9,1372.4 L1062.1,1339.6 L1063.3,1346.8 L1064.4,1338.8 L1065.6,1358.2 L1066.8,1352.2 L1067.9,1356.1 L1069.1,1353.3 L1070.3,1336.2 L1071.5,1349.4 L1072.6,1331.5 L1073.8,1330.6 L1075.0,1304.6 L1076.1,1353.8 L1077.3,1319.1 L1078.5,1332.3 L1079.7,1330.1 L1080.8,1350.1 L1082.0,1334.4 L1083.2,1315.5 L1084.3,1326.5 L1085.5,1323.3 L1086.7,1328.1 L1087.9,1306.1 L1089.0,1322.8 L1090.2,1354.2 L1091.4,1331.3 L1092.5,1349.4 L1093.7,1367.6 L1094.9,1326.8 L1096.1,1298.7 L1097.2,1316.9 L1098.4,1334.2 L1099.6,1330.1 L1100.7,1298.9 L1101.9,1312.8 L1103.1,1314.2 L1104.3,1315.5 L1105.4,1313.9 L1106.6,1302.4 L1107.8,1305.9 L1108.9,1310.6 L1110.1,1328.9 L1111.3,1305.8 L1112.4,1323.2 L1113.6,1296.7 L1114.8,1331.4 L1116.0,1314.4 L1117.1,1312.3 L1118.3,1331.6 L1119.5,1286.9 L1120.6,1291.0 L1121.8,1319.6 L1123.0,1301.6 L1124.2,1307.6 L1125.3,1352.0 L1126.5,1310.0 L1127.7,1314.8 L1128.8,1312.9 L1130.0,1330.2 L1131.2,1318.6 L1132.4,1317.5 L1133.5,1297.5 L1134.7,1310.4 L1135.9,1316.7 L1137.0,1295.5 L1138.2,1327.6 L1139.4,1326.5 L1140.6,1348.9 L1141.7,1300.4 L1142.9,1310.7 L1144.1,1312.8 L1145.2,1317.8 L1146.4,1327.4 L1147.6,1327.2 L1148.8,1335.5 L1149.9,1336.2 L1151.1,1333.7 L1152.3,1314.0 L1153.4,1329.9 L1154.6,1340.8 L1155.8,1350.3 L1157.0,1352.9 L1158.1,1321.8 L1159.3,1339.8 L1160.5,1348.1 L1161.6,1356.0 L1162.8,1369.1 L1164.0,1355.6 L1165.1,1343.6 L1166.3,1364.1 L1167.5,1363.4 L1168.7,1365.1 L1169.8,1361.8 L1171.0,1388.5 L1172.2,1370.1 L1173.3,1380.9 L1174.5,1356.8 L1175.7,1382.8 L1176.9,1364.6 L1178.0,1352.2 L1179.2,1380.9 L1180.4,1386.8 L1181.5,1376.7 L1182.7,1381.1 L1183.9,1397.4 L1185.1,1377.6 L1186.2,1356.7 L1187.4,1392.3 L1188.6,1393.6 L1189.7,1408.0 L1190.9,1390.0 L1192.1,1415.1 L1193.3,1415.1 L1194.4,1382.0 L1195.6,1416.3 L1196.8,1389.1 L1197.9,1384.6 L1199.1,1405.3 L1200.3,1403.0 L1201.5,1384.5 L1202.6,1417.6 L1203.8,1424.9 L1205.0,1437.4 L1206.1,1418.3 L1207.3,1398.4 L1208.5,1407.5 L1209.7,1436.9 L1210.8,1437.0 L1212.0,1433.2 L1213.2,1422.8 L1214.3,1431.5 L1215.5,1426.7 L1216.7,1426.9 L1217.8,1437.0 L1219.0,1434.9 L1220.2,1433.1 L1221.4,1439.2 L1222.5,1432.3 L1223.7,1414.0 L1224.9,1434.7 L1226.0,1444.5 L1227.2,1472.0 L1228.4,1443.2 L1229.6,1479.5 L1230.7,1473.4 L1231.9,1441.8 L1233.1,1446.0 L1234.2,1460.3" fill="none" stroke="#000" stroke-width="1.35" stroke-linejoin="round"/>
<path d="M800.9,1547.4 L802.1,1543.8 L803.3,1544.0 L804.4,1534.7 L805.6,1552.7 L806.8,1533.2 L808.0,1540.3 L809.1,1523.3 L810.3,1522.7 L811.5,1518.7 L812.6,1524.5 L813.8,1532.0 L815.0,1523.6 L816.2,1517.7 L817.3,1537.5 L818.5,1525.9 L819.7,1531.9 L820.8,1518.3 L822.0,1539.2 L823.2,1534.3 L824.4,1528.2 L825.5,1529.1 L826.7,1546.5 L827.9,1528.2 L829.0,1532.6 L830.2,1533.7 L831.4,1532.9 L832.6,1529.5 L833.7,1548.2 L834.9,1517.3 L836.1,1539.4 L837.2,1552.1 L838.4,1532.3 L839.6,1518.1 L840.8,1536.3 L841.9,1517.3 L843.1,1517.2 L844.3,1539.4 L845.4,1554.1 L846.6,1542.8 L847.8,1520.6 L849.0,1539.0 L850.1,1545.4 L851.3,1543.8 L852.5,1531.5 L853.6,1531.7 L854.8,1523.5 L856.0,1522.4 L857.1,1540.1 L858.3,1532.9 L859.5,1541.9 L860.7,1530.8 L861.8,1542.1 L863.0,1542.5 L864.2,1512.0 L865.3,1531.2 L866.5,1525.6 L867.7,1508.2 L868.9,1524.3 L870.0,1532.5 L871.2,1531.0 L872.4,1538.3 L873.5,1521.5 L874.7,1534.5 L875.9,1515.3 L877.1,1534.7 L878.2,1534.7 L879.4,1535.3 L880.6,1525.8 L881.7,1529.8 L882.9,1518.9 L884.1,1536.6 L885.3,1528.8 L886.4,1513.7 L887.6,1533.7 L888.8,1526.6 L889.9,1517.1 L891.1,1526.4 L892.3,1537.3 L893.5,1550.4 L894.6,1509.5 L895.8,1527.6 L897.0,1519.9 L898.1,1535.9 L899.3,1514.8 L900.5,1526.7 L901.7,1531.0 L902.8,1539.8 L904.0,1528.1 L905.2,1536.0 L906.3,1533.5 L907.5,1546.4 L908.7,1536.0 L909.8,1530.0 L911.0,1543.0 L912.2,1530.8 L913.4,1525.4 L914.5,1534.3 L915.7,1537.2 L916.9,1537.2 L918.0,1522.9 L919.2,1545.6 L920.4,1534.3 L921.6,1535.3 L922.7,1530.2 L923.9,1532.1 L925.1,1541.7 L926.2,1512.8 L927.4,1529.9 L928.6,1543.8 L929.8,1539.7 L930.9,1530.6 L932.1,1525.9 L933.3,1543.8 L934.4,1525.0 L935.6,1544.1 L936.8,1538.8 L938.0,1523.7 L939.1,1515.9 L940.3,1532.3 L941.5,1534.3 L942.6,1519.9 L943.8,1541.3 L945.0,1529.0 L946.2,1529.4 L947.3,1522.2 L948.5,1528.8 L949.7,1533.9 L950.8,1525.9 L952.0,1541.8 L953.2,1524.0 L954.4,1537.7 L955.5,1539.9 L956.7,1534.9 L957.9,1531.1 L959.0,1525.0 L960.2,1533.5 L961.4,1524.8 L962.5,1522.6 L963.7,1532.5 L964.9,1540.5 L966.1,1523.1 L967.2,1529.0 L968.4,1549.5 L969.6,1536.9 L970.7,1523.5 L971.9,1536.9 L973.1,1527.6 L974.3,1536.9 L975.4,1511.2 L976.6,1510.0 L977.8,1507.5 L978.9,1488.2 L980.1,1507.8 L981.3,1503.9 L982.5,1468.7 L983.6,1512.2 L984.8,1479.9 L986.0,1507.8 L987.1,1481.4 L988.3,1448.8 L989.5,1475.2 L990.7,1489.7 L991.8,1433.6 L993.0,1481.0 L994.2,1472.9 L995.3,1461.5 L996.5,1489.2 L997.7,1441.6 L998.9,1429.5 L1000.0,1443.2 L1001.2,1448.9 L1002.4,1455.5 L1003.5,1432.4 L1004.7,1509.0 L1005.9,1446.8 L1007.1,1436.6 L1008.2,1477.9 L1009.4,1427.7 L1010.6,1435.3 L1011.7,1430.3 L1012.9,1424.4 L1014.1,1411.9 L1015.2,1411.0 L1016.4,1437.2 L1017.6,1415.9 L1018.8,1414.4 L1019.9,1407.3 L1021.1,1416.9 L1022.3,1383.5 L1023.4,1374.2 L1024.6,1367.1 L1025.8,1356.8 L1027.0,1362.6 L1028.1,1398.7 L1029.3,1399.4 L1030.5,1392.9 L1031.6,1371.8 L1032.8,1383.0 L1034.0,1358.7 L1035.2,1344.1 L1036.3,1383.6 L1037.5,1354.5 L1038.7,1380.1 L1039.8,1395.9 L1041.0,1394.6 L1042.2,1374.6 L1043.4,1404.2 L1044.5,1355.7 L1045.7,1334.5 L1046.9,1385.7 L1048.0,1368.0 L1049.2,1329.7 L1050.4,1351.8 L1051.6,1353.5 L1052.7,1361.4 L1053.9,1335.1 L1055.1,1347.5 L1056.2,1374.1 L1057.4,1399.5 L1058.6,1403.2 L1059.7,1336.4 L1060.9,1353.4 L1062.1,1318.6 L1063.3,1335.9 L1064.4,1369.8 L1065.6,1337.9 L1066.8,1319.0 L1067.9,1359.1 L1069.1,1350.2 L1070.3,1304.8 L1071.5,1372.2 L1072.6,1358.2 L1073.8,1315.0 L1075.0,1330.5 L1076.1,1355.8 L1077.3,1360.8 L1078.5,1321.9 L1079.7,1306.0 L1080.8,1312.5 L1082.0,1319.5 L1083.2,1297.0 L1084.3,1319.2 L1085.5,1340.9 L1086.7,1283.9 L1087.9,1347.4 L1089.0,1325.1 L1090.2,1323.2 L1091.4,1293.0 L1092.5,1335.4 L1093.7,1325.1 L1094.9,1354.0 L1096.1,1311.7 L1097.2,1308.9 L1098.4,1304.2 L1099.6,1334.5 L1100.7,1310.9 L1101.9,1332.5 L1103.1,1324.3 L1104.3,1316.2 L1105.4,1289.1 L1106.6,1322.9 L1107.8,1310.6 L1108.9,1330.4 L1110.1,1324.8 L1111.3,1327.2 L1112.4,1316.3 L1113.6,1297.9 L1114.8,1334.5 L1116.0,1298.4 L1117.1,1331.0 L1118.3,1305.6 L1119.5,1323.3 L1120.6,1318.7 L1121.8,1320.7 L1123.0,1291.6 L1124.2,1308.5 L1125.3,1292.7 L1126.5,1321.2 L1127.7,1319.0 L1128.8,1282.8 L1130.0,1347.2 L1131.2,1332.3 L1132.4,1318.8 L1133.5,1279.7 L1134.7,1327.7 L1135.9,1301.5 L1137.0,1287.4 L1138.2,1324.5 L1139.4,1324.7 L1140.6,1289.8 L1141.7,1334.9 L1142.9,1346.1 L1144.1,1310.5 L1145.2,1338.3 L1146.4,1304.0 L1147.6,1320.3 L1148.8,1366.8 L1149.9,1328.2 L1151.1,1334.8 L1152.3,1349.8 L1153.4,1316.9 L1154.6,1375.3 L1155.8,1366.9 L1157.0,1353.9 L1158.1,1330.4 L1159.3,1378.1 L1160.5,1362.2 L1161.6,1365.6 L1162.8,1383.1 L1164.0,1362.8 L1165.1,1379.7 L1166.3,1367.9 L1167.5,1355.2 L1168.7,1380.6 L1169.8,1381.4 L1171.0,1385.3 L1172.2,1384.2 L1173.3,1400.0 L1174.5,1394.0 L1175.7,1370.0 L1176.9,1391.2 L1178.0,1311.1 L1179.2,1393.2 L1180.4,1369.7 L1181.5,1410.0 L1182.7,1387.2 L1183.9,1394.3 L1185.1,1386.8 L1186.2,1361.0 L1187.4,1392.6 L1188.6,1415.1 L1189.7,1391.0 L1190.9,1414.4 L1192.1,1399.8 L1193.3,1367.9 L1194.4,1382.6 L1195.6,1382.0 L1196.8,1394.8 L1197.9,1407.7 L1199.1,1439.8 L1200.3,1420.7 L1201.5,1423.9 L1202.6,1401.5 L1203.8,1396.6 L1205.0,1408.1 L1206.1,1434.6 L1207.3,1383.9 L1208.5,1393.7 L1209.7,1427.3 L1210.8,1420.5 L1212.0,1413.2 L1213.2,1425.1 L1214.3,1430.4 L1215.5,1420.2 L1216.7,1431.0 L1217.8,1428.6 L1219.0,1465.9 L1220.2,1467.7 L1221.4,1403.7 L1222.5,1469.7 L1223.7,1432.0 L1224.9,1437.1 L1226.0,1440.9 L1227.2,1460.7 L1228.4,1429.0 L1229.6,1443.9 L1230.7,1459.3 L1231.9,1482.1 L1233.1,1460.7 L1234.2,1469.6" fill="none" stroke="#0b8282" stroke-width="1.35" stroke-linejoin="round"/>
<line x1="765.70" y1="1160.80" x2="823.70" y2="1160.80" stroke="#333" stroke-width="1.2"/>
<line x1="765.70" y1="1197.80" x2="823.70" y2="1197.80" stroke="#0b8282" stroke-width="1.2"/>
<text x="830.48" y="1172.10" font-size="29.50" font-weight="normal" fill="#000" textLength="261.47" lengthAdjust="spacingAndGlyphs">+ PSFL2915 (500 nM)</text>
<text x="830.47" y="1207.30" font-size="29.50" font-weight="normal" fill="#000" textLength="356.40" lengthAdjust="spacingAndGlyphs">+ PSFL2915 and ATP (10 µM)</text>
<text x="815.49" y="1391.90" font-size="31.59" font-weight="normal" fill="#000">hP2X3</text>
<text x="909.52" y="1382.30" font-size="21.02" font-weight="normal" fill="#000">L297ANAP</text>
<text x="923.87" y="1680.30" font-size="29.50" font-weight="normal" fill="#000" textLength="201.48" lengthAdjust="spacingAndGlyphs">Wavelength (nm)</text>
<text transform="translate(714.00,1450.27) rotate(-90)" x="0" y="0" font-size="29.50" font-weight="normal" fill="#000" textLength="168.43" lengthAdjust="spacingAndGlyphs">Normalized F</text>
<text x="681.44" y="602.50" font-size="41.50" font-weight="bold" fill="#000">f</text>
<defs>
<clipPath id="fclip"><rect x="762.6" y="595.4" width="541.8" height="441.6"/></clipPath>
<linearGradient id="gU" x1="0" y1="0" x2="1" y2="0"><stop offset="0" stop-color="#94c486"/><stop offset="0.55" stop-color="#88b07c"/><stop offset="1" stop-color="#6f8a68"/></linearGradient>
<linearGradient id="gB" x1="0" y1="1" x2="1" y2="0"><stop offset="0" stop-color="#a8dc9c"/><stop offset="0.5" stop-color="#8fb883"/><stop offset="1" stop-color="#7c9872"/></linearGradient>
<linearGradient id="gL" x1="0" y1="1" x2="1" y2="0"><stop offset="0" stop-color="#8fbe84"/><stop offset="0.6" stop-color="#87ad7c"/><stop offset="1" stop-color="#7a8f72"/></linearGradient>
<linearGradient id="gLoop" x1="0" y1="0" x2="1" y2="0"><stop offset="0" stop-color="#8cba80"/><stop offset="0.5" stop-color="#7e9c74"/><stop offset="1" stop-color="#6a7a66"/></linearGradient>
<linearGradient id="gGray" x1="0" y1="0" x2="1" y2="1"><stop offset="0" stop-color="#d8d8d8"/><stop offset="1" stop-color="#bdbdbd"/></linearGradient>
<radialGradient id="gMg" cx="0.45" cy="0.35" r="0.65" fx="0.5" fy="0.32"><stop offset="0" stop-color="#ff9a80"/><stop offset="0.15" stop-color="#f03a10"/><stop offset="0.6" stop-color="#c01800"/><stop offset="1" stop-color="#500800"/></radialGradient>
</defs>
<g clip-path="url(#fclip)">
<polygon points="762.0,597.0 790.0,597.0 800.0,604.0 775.0,628.0 762.0,640.0" fill="#a8a8a8"/>
<path d="M790.0,650.0 C797.7,631.3 806.3,629.7 808.0,648.0 C809.7,666.3 807.7,741.3 800.0,760.0 C792.3,778.7 763.7,778.3 762.0,760.0 C760.3,741.7 782.3,668.7 790.0,650.0 Z" fill="#cfcfcf"/>
<polygon points="790.0,648.0 808.0,648.0 812.0,700.0 800.0,760.0 762.0,790.0 762.0,740.0 776.0,700.0" fill="#cdcdcd"/>
<polygon points="835.0,660.0 850.0,665.0 860.0,730.0 840.0,760.0 820.0,760.0" fill="#e6e6e6"/>
<polygon points="762.0,830.0 800.0,800.0 850.0,790.0 880.0,800.0 830.0,860.0 790.0,890.0 762.0,900.0" fill="#ececec"/>
<polygon points="880.0,740.0 930.0,735.0 930.0,770.0 900.0,790.0 870.0,800.0" fill="#e4e4e4"/>
<path d="M845.0,596.0 C840.0,598.7 823.2,606.7 815.0,612.0 C806.8,617.3 799.8,621.3 796.0,628.0 C792.2,634.7 792.7,648.0 792.0,652.0" fill="none" stroke="#bdbdbd" stroke-width="9" stroke-linecap="round" stroke-linejoin="round"/>
<path d="M845.0,596.0 C840.0,598.7 823.2,606.7 815.0,612.0 C806.8,617.3 799.8,621.3 796.0,628.0 C792.2,634.7 792.7,648.0 792.0,652.0" fill="none" stroke="#f2f2f2" stroke-width="6" stroke-linecap="round" stroke-linejoin="round"/>
<path d="M838.0,663.0 C840.0,665.8 843.0,673.8 850.0,680.0 C857.0,686.2 872.5,693.3 880.0,700.0 C887.5,706.7 891.7,713.3 895.0,720.0 C898.3,726.7 899.2,736.7 900.0,740.0" fill="none" stroke="#d0d0d0" stroke-width="8" stroke-linecap="round" stroke-linejoin="round"/>
<path d="M838.0,663.0 C840.0,665.8 843.0,673.8 850.0,680.0 C857.0,686.2 872.5,693.3 880.0,700.0 C887.5,706.7 891.7,713.3 895.0,720.0 C898.3,726.7 899.2,736.7 900.0,740.0" fill="none" stroke="#f0f0f0" stroke-width="5" stroke-linecap="round" stroke-linejoin="round"/>
<polygon points="938.0,762.0 960.0,722.0 1008.0,712.0 1012.0,740.0" fill="#a9cd9f"/>
<polygon points="1008.0,738.0 1060.0,712.0 1110.0,698.0 1122.0,724.0 1062.0,732.0" fill="#a2c698"/>
<polygon points="868.0,872.0 906.0,840.0 940.0,808.0 958.0,820.0 945.0,850.0 925.0,872.0 900.0,895.0" fill="#dadada"/>
<polygon points="905.0,885.0 920.0,852.0 940.0,860.0 975.0,1038.0 948.0,1038.0" fill="#c9c9c9"/>
<polygon points="930.0,850.0 948.0,845.0 1012.0,1038.0 985.0,1038.0" fill="#d6d6d6"/>
<polygon points="932.0,878.0 952.0,878.0 985.0,902.0 1030.0,922.0 1075.0,944.0 1100.0,965.0 1070.0,972.0 1020.0,950.0 975.0,930.0 945.0,910.0" fill="#e0e0e0"/>
<polygon points="1000.0,1008.0 1040.0,1012.0 1065.0,1038.0 1012.0,1038.0" fill="#cdcdcd"/>
<polygon points="1098.0,992.0 1128.0,986.0 1175.0,1038.0 1132.0,1038.0" fill="#d4d4d4"/>
<path d="M988.0,953.0 C991.8,948.3 1000.2,947.5 1008.0,947.0 C1015.8,946.5 1023.7,947.2 1035.0,950.0 C1046.3,952.8 1064.8,958.7 1076.0,964.0 C1087.2,969.3 1097.3,974.0 1102.0,982.0 C1106.7,990.0 1110.7,1006.7 1104.0,1012.0 C1097.3,1017.3 1078.0,1014.7 1062.0,1014.0 C1046.0,1013.3 1020.7,1009.0 1008.0,1008.0 C995.3,1007.0 989.8,1013.5 986.0,1008.0 C982.2,1002.5 984.7,984.2 985.0,975.0 C985.3,965.8 984.2,957.7 988.0,953.0 Z" fill="#a2a2a2"/>
<path d="M1000.0,966.0 C1003.8,959.7 1023.7,959.0 1035.0,960.0 C1046.3,961.0 1059.2,967.0 1068.0,972.0 C1076.8,977.0 1089.3,985.0 1088.0,990.0 C1086.7,995.0 1072.7,1000.7 1060.0,1002.0 C1047.3,1003.3 1022.0,1004.0 1012.0,998.0 C1002.0,992.0 996.2,972.3 1000.0,966.0 Z" fill="#c6c6c6"/>
<polygon points="1150.0,950.0 1185.0,948.0 1255.0,1038.0 1195.0,1038.0" fill="#cbcbcb"/>
<polygon points="1167.0,873.0 1214.0,866.0 1227.0,827.0 1263.0,854.0 1228.0,893.0 1233.0,904.0 1167.0,931.0" fill="#c9c9c9"/>
<polygon points="1167.0,922.0 1233.0,895.0 1235.0,906.0 1167.0,934.0" fill="#a3a3a3"/>
<polygon points="1241.0,948.0 1262.0,935.0 1305.0,945.0 1305.0,975.0 1269.0,981.0 1248.0,978.0" fill="#a0a0a0"/>
<path d="M988.0,975.0 C989.0,971.8 988.5,960.3 994.0,956.0 C999.5,951.7 1011.8,949.5 1021.0,949.0 C1030.2,948.5 1039.8,950.0 1049.0,953.0 C1058.2,956.0 1068.2,961.5 1076.0,967.0 C1083.8,972.5 1091.8,978.3 1096.0,986.0 C1100.2,993.7 1099.7,1004.0 1101.0,1013.0 C1102.3,1022.0 1103.5,1035.5 1104.0,1040.0" fill="none" stroke="#b4b4b4" stroke-width="8" stroke-linecap="round" stroke-linejoin="round"/>
<path d="M988.0,975.0 C989.0,971.8 988.5,960.3 994.0,956.0 C999.5,951.7 1011.8,949.5 1021.0,949.0 C1030.2,948.5 1039.8,950.0 1049.0,953.0 C1058.2,956.0 1068.2,961.5 1076.0,967.0 C1083.8,972.5 1091.8,978.3 1096.0,986.0 C1100.2,993.7 1099.7,1004.0 1101.0,1013.0 C1102.3,1022.0 1103.5,1035.5 1104.0,1040.0" fill="none" stroke="#ececec" stroke-width="5.2" stroke-linecap="round" stroke-linejoin="round"/>
<path d="M988.0,1002.0 C993.5,1003.0 1012.3,1008.0 1021.0,1008.0 C1029.7,1008.0 1033.2,1006.7 1040.0,1002.0 C1046.8,997.3 1053.7,988.2 1062.0,980.0 C1070.3,971.8 1080.8,959.3 1090.0,953.0 C1099.2,946.7 1107.0,943.8 1117.0,942.0 C1127.0,940.2 1142.5,943.0 1150.0,942.0 C1157.5,941.0 1160.0,937.0 1162.0,936.0" fill="none" stroke="#b4b4b4" stroke-width="8" stroke-linecap="round" stroke-linejoin="round"/>
<path d="M988.0,1002.0 C993.5,1003.0 1012.3,1008.0 1021.0,1008.0 C1029.7,1008.0 1033.2,1006.7 1040.0,1002.0 C1046.8,997.3 1053.7,988.2 1062.0,980.0 C1070.3,971.8 1080.8,959.3 1090.0,953.0 C1099.2,946.7 1107.0,943.8 1117.0,942.0 C1127.0,940.2 1142.5,943.0 1150.0,942.0 C1157.5,941.0 1160.0,937.0 1162.0,936.0" fill="none" stroke="#ececec" stroke-width="5.2" stroke-linecap="round" stroke-linejoin="round"/>
<path d="M1084.0,1040.0 C1089.5,1036.5 1106.8,1025.3 1117.0,1019.0 C1127.2,1012.7 1135.8,1011.2 1145.0,1002.0 C1154.2,992.8 1164.7,972.2 1172.0,964.0 C1179.3,955.8 1182.0,955.3 1189.0,953.0 C1196.0,950.7 1201.7,948.7 1214.0,950.0 C1226.3,951.3 1254.8,959.2 1263.0,961.0" fill="none" stroke="#b4b4b4" stroke-width="8" stroke-linecap="round" stroke-linejoin="round"/>
<path d="M1084.0,1040.0 C1089.5,1036.5 1106.8,1025.3 1117.0,1019.0 C1127.2,1012.7 1135.8,1011.2 1145.0,1002.0 C1154.2,992.8 1164.7,972.2 1172.0,964.0 C1179.3,955.8 1182.0,955.3 1189.0,953.0 C1196.0,950.7 1201.7,948.7 1214.0,950.0 C1226.3,951.3 1254.8,959.2 1263.0,961.0" fill="none" stroke="#ececec" stroke-width="5.2" stroke-linecap="round" stroke-linejoin="round"/>
<path d="M1250.0,820.0 C1253.3,818.3 1260.8,812.5 1270.0,810.0 C1279.2,807.5 1299.2,805.8 1305.0,805.0" fill="none" stroke="#b4b4b4" stroke-width="8" stroke-linecap="round" stroke-linejoin="round"/>
<path d="M1250.0,820.0 C1253.3,818.3 1260.8,812.5 1270.0,810.0 C1279.2,807.5 1299.2,805.8 1305.0,805.0" fill="none" stroke="#ececec" stroke-width="5.2" stroke-linecap="round" stroke-linejoin="round"/>
<line x1="1090.00" y1="1012.00" x2="1092.00" y2="1032.00" stroke="#5a6a8a" stroke-width="6"/>
<path d="M758.0,894.0 C765.0,876.8 786.0,870.2 800.0,859.0 C814.0,847.8 829.7,835.7 842.0,827.0 C854.3,818.3 863.3,813.5 874.0,807.0 C884.7,800.5 898.0,792.8 906.0,788.0 C914.0,783.2 916.3,781.8 922.0,778.0 C927.7,774.2 927.0,771.5 940.0,765.0 C953.0,758.5 980.0,745.0 1000.0,739.0 C1020.0,733.0 1040.5,731.0 1060.0,729.0 C1079.5,727.0 1107.5,726.3 1117.0,727.0 C1126.5,727.7 1121.5,731.7 1117.0,733.0 C1112.5,734.3 1099.5,734.2 1090.0,735.0 C1080.5,735.8 1068.3,736.5 1060.0,738.0 C1051.7,739.5 1046.7,741.8 1040.0,744.0 C1033.3,746.2 1026.7,748.2 1020.0,751.0 C1013.3,753.8 1006.7,756.7 1000.0,761.0 C993.3,765.3 985.8,772.5 980.0,777.0 C974.2,781.5 970.0,784.2 965.0,788.0 C960.0,791.8 954.5,796.0 950.0,800.0 C945.5,804.0 942.7,807.7 938.0,812.0 C933.3,816.3 927.3,821.5 922.0,826.0 C916.7,830.5 912.2,834.3 906.0,839.0 C899.8,843.7 891.2,849.2 885.0,854.0 C878.8,858.8 875.2,862.7 869.0,868.0 C862.8,873.3 856.0,879.5 848.0,886.0 C840.0,892.5 829.0,900.3 821.0,907.0 C813.0,913.7 810.5,916.8 800.0,926.0 C789.5,935.2 765.0,967.3 758.0,962.0 C751.0,956.7 751.0,911.2 758.0,894.0 Z" fill="url(#gB)"/>
<path d="M758.0,894.0 C765.0,888.2 786.0,870.2 800.0,859.0 C814.0,847.8 829.7,835.7 842.0,827.0 C854.3,818.3 863.3,813.5 874.0,807.0 C884.7,800.5 898.0,792.8 906.0,788.0 C914.0,783.2 916.3,781.8 922.0,778.0 C927.7,774.2 927.0,771.5 940.0,765.0 C953.0,758.5 980.0,745.0 1000.0,739.0 C1020.0,733.0 1040.5,731.0 1060.0,729.0 C1079.5,727.0 1107.5,727.3 1117.0,727.0" fill="none" stroke="#a2a2a2" stroke-width="9" stroke-linecap="butt" stroke-linejoin="round"/>
<path d="M758.0,1012.0 C761.7,1004.8 773.0,1003.2 780.0,999.0 C787.0,994.8 793.3,991.2 800.0,987.0 C806.7,982.8 813.3,978.8 820.0,974.0 C826.7,969.2 834.2,963.7 840.0,958.0 C845.8,952.3 850.0,946.3 855.0,940.0 C860.0,933.7 865.0,926.7 870.0,920.0 C875.0,913.3 880.8,906.0 885.0,900.0 C889.2,894.0 891.5,890.2 895.0,884.0 C898.5,877.8 902.3,869.7 906.0,863.0 C909.7,856.3 913.5,849.8 917.0,844.0 C920.5,838.2 923.5,832.8 927.0,828.0 C930.5,823.2 933.3,819.8 938.0,815.0 C942.7,810.2 948.0,805.0 955.0,799.0 C962.0,793.0 975.8,782.0 980.0,779.0 C984.2,776.0 983.3,777.2 980.0,781.0 C976.7,784.8 966.7,795.2 960.0,802.0 C953.3,808.8 945.5,815.7 940.0,822.0 C934.5,828.3 930.8,833.7 927.0,840.0 C923.2,846.3 919.7,853.3 917.0,860.0 C914.3,866.7 913.0,873.3 911.0,880.0 C909.0,886.7 906.8,892.5 905.0,900.0 C903.2,907.5 901.7,917.5 900.0,925.0 C898.3,932.5 897.5,937.5 895.0,945.0 C892.5,952.5 889.2,962.2 885.0,970.0 C880.8,977.8 875.8,985.3 870.0,992.0 C864.2,998.7 856.7,1004.8 850.0,1010.0 C843.3,1015.2 837.0,1018.7 830.0,1023.0 C823.0,1027.3 820.0,1032.8 808.0,1036.0 C796.0,1039.2 766.3,1046.0 758.0,1042.0 C749.7,1038.0 754.3,1019.2 758.0,1012.0 Z" fill="url(#gL)"/>
<path d="M758.0,1012.0 C761.7,1009.8 773.0,1003.2 780.0,999.0 C787.0,994.8 793.3,991.2 800.0,987.0 C806.7,982.8 813.3,978.8 820.0,974.0 C826.7,969.2 834.2,963.7 840.0,958.0 C845.8,952.3 850.0,946.3 855.0,940.0 C860.0,933.7 865.0,926.7 870.0,920.0 C875.0,913.3 880.8,906.0 885.0,900.0 C889.2,894.0 891.5,890.2 895.0,884.0 C898.5,877.8 902.3,869.7 906.0,863.0 C909.7,856.3 913.5,849.8 917.0,844.0 C920.5,838.2 923.5,832.8 927.0,828.0 C930.5,823.2 933.3,819.8 938.0,815.0 C942.7,810.2 948.0,805.0 955.0,799.0 C962.0,793.0 975.8,782.3 980.0,779.0" fill="none" stroke="#8f8f8f" stroke-width="6" stroke-linecap="butt" stroke-linejoin="round"/>
<path d="M758.0,752.0 C765.0,737.0 786.3,732.0 800.0,724.0 C813.7,716.0 826.7,709.7 840.0,704.0 C853.3,698.3 866.7,694.0 880.0,690.0 C893.3,686.0 906.7,682.8 920.0,680.0 C933.3,677.2 946.7,674.7 960.0,673.0 C973.3,671.3 986.7,670.3 1000.0,670.0 C1013.3,669.7 1024.7,670.3 1040.0,671.0 C1055.3,671.7 1083.3,671.2 1092.0,674.0 C1100.7,676.8 1100.7,684.5 1092.0,688.0 C1083.3,691.5 1055.3,692.2 1040.0,695.0 C1024.7,697.8 1013.3,701.5 1000.0,705.0 C986.7,708.5 972.5,712.3 960.0,716.0 C947.5,719.7 938.3,721.3 925.0,727.0 C911.7,732.7 894.2,742.8 880.0,750.0 C865.8,757.2 853.3,763.0 840.0,770.0 C826.7,777.0 813.7,784.7 800.0,792.0 C786.3,799.3 765.0,820.7 758.0,814.0 C751.0,807.3 751.0,767.0 758.0,752.0 Z" fill="url(#gU)"/>
<path d="M758.0,752.0 C765.0,747.3 786.3,732.0 800.0,724.0 C813.7,716.0 826.7,709.7 840.0,704.0 C853.3,698.3 866.7,694.0 880.0,690.0 C893.3,686.0 906.7,682.8 920.0,680.0 C933.3,677.2 946.7,674.7 960.0,673.0 C973.3,671.3 986.7,670.3 1000.0,670.0 C1013.3,669.7 1024.7,670.3 1040.0,671.0 C1055.3,671.7 1083.3,673.5 1092.0,674.0" fill="none" stroke="#9c9c9c" stroke-width="8" stroke-linecap="butt" stroke-linejoin="round"/>
<polygon points="1133.0,596.0 1166.0,596.0 1174.0,615.0 1180.0,642.0 1172.0,660.0 1152.0,642.0 1140.0,620.0" fill="#767676"/>
<polygon points="1030.0,671.0 1086.0,674.0 1100.0,671.0 1093.0,684.0 1030.0,688.0" fill="#9a9a9a"/>
<path d="M1085.0,672.0 C1088.3,676.7 1096.7,691.2 1105.0,700.0 C1113.3,708.8 1124.2,718.8 1135.0,725.0 C1145.8,731.2 1158.8,736.2 1170.0,737.0 C1181.2,737.8 1193.0,734.8 1202.0,730.0 C1211.0,725.2 1218.7,716.7 1224.0,708.0 C1229.3,699.3 1232.3,689.3 1234.0,678.0 C1235.7,666.7 1235.3,651.3 1234.0,640.0 C1232.7,628.7 1229.0,617.7 1226.0,610.0 C1223.0,602.3 1225.3,596.7 1216.0,594.0 C1206.7,591.3 1175.3,589.7 1170.0,594.0 C1164.7,598.3 1180.5,611.0 1184.0,620.0 C1187.5,629.0 1190.0,639.3 1191.0,648.0 C1192.0,656.7 1192.7,665.3 1190.0,672.0 C1187.3,678.7 1181.7,684.7 1175.0,688.0 C1168.3,691.3 1158.3,692.0 1150.0,692.0 C1141.7,692.0 1135.8,691.3 1125.0,688.0 C1114.2,684.7 1091.7,674.7 1085.0,672.0 C1078.3,669.3 1081.7,667.3 1085.0,672.0 Z" fill="url(#gLoop)"/>
<path d="M1105.0,700.0 C1110.0,704.5 1124.2,720.5 1135.0,727.0 C1145.8,733.5 1158.8,738.2 1170.0,739.0 C1181.2,739.8 1192.7,737.0 1202.0,732.0 C1211.3,727.0 1220.3,718.0 1226.0,709.0 C1231.7,700.0 1234.3,689.5 1236.0,678.0 C1237.7,666.5 1237.3,651.3 1236.0,640.0 C1234.7,628.7 1231.0,617.7 1228.0,610.0 C1225.0,602.3 1219.7,596.7 1218.0,594.0" fill="none" stroke="#8a8a8a" stroke-width="5" stroke-linecap="butt" stroke-linejoin="round"/>
<path d="M758.0,698.0 C762.3,701.0 774.3,708.7 784.0,716.0 C793.7,723.3 808.0,732.0 816.0,742.0 C824.0,752.0 827.2,769.5 832.0,776.0 C836.8,782.5 839.5,785.0 845.0,781.0 C850.5,777.0 859.0,764.3 865.0,752.0 C871.0,739.7 875.5,716.2 881.0,707.0 C886.5,697.8 892.0,697.0 898.0,697.0 C904.0,697.0 910.5,701.7 917.0,707.0 C923.5,712.3 929.3,724.8 937.0,729.0 C944.7,733.2 953.3,734.5 963.0,732.0 C972.7,729.5 986.3,719.3 995.0,714.0 C1003.7,708.7 1009.2,704.0 1015.0,700.0 C1020.8,696.0 1022.5,694.0 1030.0,690.0 C1037.5,686.0 1050.0,679.0 1060.0,676.0 C1070.0,673.0 1085.0,672.7 1090.0,672.0" fill="none" stroke="#7fae74" stroke-width="7.5" stroke-linecap="round" stroke-linejoin="round"/><path d="M758.0,698.0 C762.3,701.0 774.3,708.7 784.0,716.0 C793.7,723.3 808.0,732.0 816.0,742.0 C824.0,752.0 827.2,769.5 832.0,776.0 C836.8,782.5 839.5,785.0 845.0,781.0 C850.5,777.0 859.0,764.3 865.0,752.0 C871.0,739.7 875.5,716.2 881.0,707.0 C886.5,697.8 892.0,697.0 898.0,697.0 C904.0,697.0 910.5,701.7 917.0,707.0 C923.5,712.3 929.3,724.8 937.0,729.0 C944.7,733.2 953.3,734.5 963.0,732.0 C972.7,729.5 986.3,719.3 995.0,714.0 C1003.7,708.7 1009.2,704.0 1015.0,700.0 C1020.8,696.0 1022.5,694.0 1030.0,690.0 C1037.5,686.0 1050.0,679.0 1060.0,676.0 C1070.0,673.0 1085.0,672.7 1090.0,672.0" fill="none" stroke="#b9e3ad" stroke-width="2.62" stroke-linecap="round" stroke-linejoin="round" opacity="0.8"/>
<path d="M1011.0,704.0 C1010.0,698.0 1005.5,678.7 1005.0,668.0 C1004.5,657.3 1004.2,647.0 1008.0,640.0 C1011.8,633.0 1019.3,626.7 1028.0,626.0 C1036.7,625.3 1050.3,630.2 1060.0,636.0 C1069.7,641.8 1078.0,657.8 1086.0,661.0 C1094.0,664.2 1101.5,659.3 1108.0,655.0 C1114.5,650.7 1121.0,644.7 1125.0,635.0 C1129.0,625.3 1130.8,603.3 1132.0,597.0" fill="none" stroke="#86b67a" stroke-width="7.5" stroke-linecap="round" stroke-linejoin="round"/><path d="M1011.0,704.0 C1010.0,698.0 1005.5,678.7 1005.0,668.0 C1004.5,657.3 1004.2,647.0 1008.0,640.0 C1011.8,633.0 1019.3,626.7 1028.0,626.0 C1036.7,625.3 1050.3,630.2 1060.0,636.0 C1069.7,641.8 1078.0,657.8 1086.0,661.0 C1094.0,664.2 1101.5,659.3 1108.0,655.0 C1114.5,650.7 1121.0,644.7 1125.0,635.0 C1129.0,625.3 1130.8,603.3 1132.0,597.0" fill="none" stroke="#bfe8b3" stroke-width="2.62" stroke-linecap="round" stroke-linejoin="round" opacity="0.8"/>
<path d="M1016.0,712.0 C1016.7,706.7 1020.7,690.3 1020.0,680.0 C1019.3,669.7 1012.3,658.7 1012.0,650.0 C1011.7,641.3 1013.3,633.0 1018.0,628.0 C1022.7,623.0 1030.5,618.0 1040.0,620.0 C1049.5,622.0 1065.8,632.0 1075.0,640.0 C1084.2,648.0 1091.7,663.3 1095.0,668.0" fill="none" stroke="#86b67a" stroke-width="7" stroke-linecap="round" stroke-linejoin="round"/><path d="M1016.0,712.0 C1016.7,706.7 1020.7,690.3 1020.0,680.0 C1019.3,669.7 1012.3,658.7 1012.0,650.0 C1011.7,641.3 1013.3,633.0 1018.0,628.0 C1022.7,623.0 1030.5,618.0 1040.0,620.0 C1049.5,622.0 1065.8,632.0 1075.0,640.0 C1084.2,648.0 1091.7,663.3 1095.0,668.0" fill="none" stroke="#bfe8b3" stroke-width="2.45" stroke-linecap="round" stroke-linejoin="round" opacity="0.8"/>
<path d="M1040.0,630.0 C1045.0,627.5 1060.0,618.0 1070.0,615.0 C1080.0,612.0 1090.8,610.3 1100.0,612.0 C1109.2,613.7 1120.0,618.7 1125.0,625.0 C1130.0,631.3 1129.2,645.8 1130.0,650.0" fill="none" stroke="#c2dcbb" stroke-width="6" stroke-linecap="round" stroke-linejoin="round"/>
<path d="M1308.0,730.0 C1304.7,733.7 1294.0,742.0 1288.0,752.0 C1282.0,762.0 1277.5,779.3 1272.0,790.0 C1266.5,800.7 1263.3,809.3 1255.0,816.0 C1246.7,822.7 1233.8,826.5 1222.0,830.0 C1210.2,833.5 1194.7,831.7 1184.0,837.0 C1173.3,842.3 1163.5,852.3 1158.0,862.0 C1152.5,871.7 1151.0,884.0 1151.0,895.0 C1151.0,906.0 1153.5,918.3 1158.0,928.0 C1162.5,937.7 1167.3,946.2 1178.0,953.0 C1188.7,959.8 1207.0,966.2 1222.0,969.0 C1237.0,971.8 1258.3,972.3 1268.0,970.0 C1277.7,967.7 1279.3,960.3 1280.0,955.0 C1280.7,949.7 1273.3,940.8 1272.0,938.0" fill="none" stroke="#84b678" stroke-width="7.5" stroke-linecap="round" stroke-linejoin="round"/><path d="M1308.0,730.0 C1304.7,733.7 1294.0,742.0 1288.0,752.0 C1282.0,762.0 1277.5,779.3 1272.0,790.0 C1266.5,800.7 1263.3,809.3 1255.0,816.0 C1246.7,822.7 1233.8,826.5 1222.0,830.0 C1210.2,833.5 1194.7,831.7 1184.0,837.0 C1173.3,842.3 1163.5,852.3 1158.0,862.0 C1152.5,871.7 1151.0,884.0 1151.0,895.0 C1151.0,906.0 1153.5,918.3 1158.0,928.0 C1162.5,937.7 1167.3,946.2 1178.0,953.0 C1188.7,959.8 1207.0,966.2 1222.0,969.0 C1237.0,971.8 1258.3,972.3 1268.0,970.0 C1277.7,967.7 1279.3,960.3 1280.0,955.0 C1280.7,949.7 1273.3,940.8 1272.0,938.0" fill="none" stroke="#bfe6b4" stroke-width="2.62" stroke-linecap="round" stroke-linejoin="round" opacity="0.8"/>
<circle cx="946.3" cy="819.6" r="19.6" fill="url(#gMg)"/>
<line x1="838.4" y1="821.2" x2="846.0" y2="840.0" stroke="#7a2a20" stroke-width="5.4" stroke-linecap="round"/><line x1="838.4" y1="821.2" x2="842.2" y2="830.6" stroke="#d04030" stroke-width="4.0" stroke-linecap="round"/><line x1="842.2" y1="830.6" x2="846.0" y2="840.0" stroke="#58a048" stroke-width="4.0" stroke-linecap="round"/>
<line x1="834.0" y1="825.0" x2="842.0" y2="843.0" stroke="#7a2a20" stroke-width="5.4" stroke-linecap="round"/><line x1="834.0" y1="825.0" x2="838.0" y2="834.0" stroke="#d04030" stroke-width="4.0" stroke-linecap="round"/><line x1="838.0" y1="834.0" x2="842.0" y2="843.0" stroke="#58a048" stroke-width="4.0" stroke-linecap="round"/>
<line x1="877.6" y1="818.4" x2="879.0" y2="842.0" stroke="#2f6a26" stroke-width="9.4" stroke-linecap="round"/><line x1="877.6" y1="818.4" x2="878.3" y2="830.2" stroke="#283c8c" stroke-width="8.0" stroke-linecap="round"/><line x1="878.3" y1="830.2" x2="879.0" y2="842.0" stroke="#58a048" stroke-width="8.0" stroke-linecap="round"/>
<line x1="844.0" y1="845.0" x2="879.0" y2="845.0" stroke="#2f6a26" stroke-width="9.4" stroke-linecap="round"/><line x1="844.0" y1="845.0" x2="879.0" y2="845.0" stroke="#58a048" stroke-width="8.0" stroke-linecap="round"/>
<line x1="879.0" y1="845.0" x2="907.0" y2="838.0" stroke="#2f6a26" stroke-width="9.4" stroke-linecap="round"/><line x1="879.0" y1="845.0" x2="907.0" y2="838.0" stroke="#3f8a34" stroke-width="8.0" stroke-linecap="round"/>
<line x1="907.0" y1="838.0" x2="914.0" y2="862.0" stroke="#2f6a26" stroke-width="9.4" stroke-linecap="round"/><line x1="907.0" y1="838.0" x2="914.0" y2="862.0" stroke="#58a048" stroke-width="8.0" stroke-linecap="round"/>
<line x1="889.0" y1="862.0" x2="914.0" y2="862.0" stroke="#2f6a26" stroke-width="9.4" stroke-linecap="round"/><line x1="889.0" y1="862.0" x2="914.0" y2="862.0" stroke="#58a048" stroke-width="8.0" stroke-linecap="round"/>
<line x1="914.0" y1="862.0" x2="922.4" y2="899.6" stroke="#2f6a26" stroke-width="9.4" stroke-linecap="round"/><line x1="914.0" y1="862.0" x2="922.4" y2="899.6" stroke="#58a048" stroke-width="8.0" stroke-linecap="round"/>
<line x1="1006.9" y1="829.5" x2="1036.6" y2="818.5" stroke="#1e3864" stroke-width="9.4" stroke-linecap="round"/><line x1="1006.9" y1="829.5" x2="1036.6" y2="818.5" stroke="#3d66a8" stroke-width="8.0" stroke-linecap="round"/>
<line x1="1036.6" y1="818.5" x2="1060.8" y2="818.5" stroke="#1e3864" stroke-width="9.4" stroke-linecap="round"/><line x1="1036.6" y1="818.5" x2="1060.8" y2="818.5" stroke="#3d66a8" stroke-width="8.0" stroke-linecap="round"/>
<line x1="1060.8" y1="818.5" x2="1059.7" y2="827.3" stroke="#1e3864" stroke-width="9.4" stroke-linecap="round"/><line x1="1060.8" y1="818.5" x2="1059.7" y2="827.3" stroke="#3d66a8" stroke-width="8.0" stroke-linecap="round"/>
<line x1="1059.7" y1="827.3" x2="1030.0" y2="838.3" stroke="#1e3864" stroke-width="9.4" stroke-linecap="round"/><line x1="1059.7" y1="827.3" x2="1030.0" y2="838.3" stroke="#3d66a8" stroke-width="8.0" stroke-linecap="round"/>
<line x1="1030.0" y1="838.3" x2="1002.5" y2="836.1" stroke="#1e3864" stroke-width="9.4" stroke-linecap="round"/><line x1="1030.0" y1="838.3" x2="1002.5" y2="836.1" stroke="#3d66a8" stroke-width="8.0" stroke-linecap="round"/>
<line x1="1002.5" y1="836.1" x2="1006.9" y2="829.5" stroke="#1e3864" stroke-width="9.4" stroke-linecap="round"/><line x1="1002.5" y1="836.1" x2="1006.9" y2="829.5" stroke="#3d66a8" stroke-width="8.0" stroke-linecap="round"/>
<line x1="1036.6" y1="818.5" x2="1041.0" y2="806.0" stroke="#1e3864" stroke-width="9.4" stroke-linecap="round"/><line x1="1036.6" y1="818.5" x2="1038.8" y2="812.2" stroke="#3d66a8" stroke-width="8.0" stroke-linecap="round"/><line x1="1038.8" y1="812.2" x2="1041.0" y2="806.0" stroke="#a83028" stroke-width="8.0" stroke-linecap="round"/>
<line x1="1060.8" y1="818.5" x2="1091.6" y2="804.2" stroke="#1e3864" stroke-width="9.4" stroke-linecap="round"/><line x1="1060.8" y1="818.5" x2="1076.2" y2="811.4" stroke="#3d66a8" stroke-width="8.0" stroke-linecap="round"/><line x1="1076.2" y1="811.4" x2="1091.6" y2="804.2" stroke="#c8382c" stroke-width="8.0" stroke-linecap="round"/>
<line x1="1030.0" y1="838.3" x2="1030.0" y2="847.1" stroke="#1e3864" stroke-width="9.4" stroke-linecap="round"/><line x1="1030.0" y1="838.3" x2="1030.0" y2="847.1" stroke="#3d66a8" stroke-width="8.0" stroke-linecap="round"/>
<line x1="999.2" y1="859.2" x2="1030.0" y2="847.1" stroke="#1e3864" stroke-width="9.4" stroke-linecap="round"/><line x1="999.2" y1="859.2" x2="1030.0" y2="847.1" stroke="#3d66a8" stroke-width="8.0" stroke-linecap="round"/>
<line x1="1030.0" y1="847.1" x2="1054.2" y2="846.0" stroke="#1e3864" stroke-width="9.4" stroke-linecap="round"/><line x1="1030.0" y1="847.1" x2="1042.1" y2="846.5" stroke="#3d66a8" stroke-width="8.0" stroke-linecap="round"/><line x1="1042.1" y1="846.5" x2="1054.2" y2="846.0" stroke="#c8382c" stroke-width="8.0" stroke-linecap="round"/>
<line x1="1054.2" y1="846.0" x2="1056.4" y2="855.9" stroke="#1e3864" stroke-width="9.4" stroke-linecap="round"/><line x1="1054.2" y1="846.0" x2="1055.3" y2="851.0" stroke="#c8382c" stroke-width="8.0" stroke-linecap="round"/><line x1="1055.3" y1="851.0" x2="1056.4" y2="855.9" stroke="#3d66a8" stroke-width="8.0" stroke-linecap="round"/>
<line x1="1056.4" y1="855.9" x2="1033.3" y2="872.4" stroke="#1e3864" stroke-width="9.4" stroke-linecap="round"/><line x1="1056.4" y1="855.9" x2="1033.3" y2="872.4" stroke="#3d66a8" stroke-width="8.0" stroke-linecap="round"/>
<line x1="1033.3" y1="872.4" x2="997.0" y2="865.8" stroke="#1e3864" stroke-width="9.4" stroke-linecap="round"/><line x1="1033.3" y1="872.4" x2="997.0" y2="865.8" stroke="#3d66a8" stroke-width="8.0" stroke-linecap="round"/>
<line x1="997.0" y1="865.8" x2="999.2" y2="859.2" stroke="#1e3864" stroke-width="9.4" stroke-linecap="round"/><line x1="997.0" y1="865.8" x2="999.2" y2="859.2" stroke="#3d66a8" stroke-width="8.0" stroke-linecap="round"/>
<line x1="1056.4" y1="855.9" x2="1088.3" y2="865.8" stroke="#1e3864" stroke-width="9.4" stroke-linecap="round"/><line x1="1056.4" y1="855.9" x2="1088.3" y2="865.8" stroke="#3d66a8" stroke-width="8.0" stroke-linecap="round"/>
<line x1="1088.3" y1="865.8" x2="1091.6" y2="879.0" stroke="#1e3864" stroke-width="9.4" stroke-linecap="round"/><line x1="1088.3" y1="865.8" x2="1091.6" y2="879.0" stroke="#3d66a8" stroke-width="8.0" stroke-linecap="round"/>
<line x1="1091.6" y1="879.0" x2="1068.5" y2="888.9" stroke="#1e3864" stroke-width="9.4" stroke-linecap="round"/><line x1="1091.6" y1="879.0" x2="1068.5" y2="888.9" stroke="#3d66a8" stroke-width="8.0" stroke-linecap="round"/>
<line x1="1068.5" y1="888.9" x2="1034.4" y2="881.2" stroke="#1e3864" stroke-width="9.4" stroke-linecap="round"/><line x1="1068.5" y1="888.9" x2="1034.4" y2="881.2" stroke="#3d66a8" stroke-width="8.0" stroke-linecap="round"/>
<line x1="1034.4" y1="881.2" x2="1033.3" y2="872.4" stroke="#1e3864" stroke-width="9.4" stroke-linecap="round"/><line x1="1034.4" y1="881.2" x2="1033.3" y2="872.4" stroke="#3d66a8" stroke-width="8.0" stroke-linecap="round"/>
<line x1="1033.3" y1="872.4" x2="1056.4" y2="855.9" stroke="#1e3864" stroke-width="9.4" stroke-linecap="round"/><line x1="1033.3" y1="872.4" x2="1056.4" y2="855.9" stroke="#3d66a8" stroke-width="8.0" stroke-linecap="round"/>
<line x1="999.2" y1="859.2" x2="968.4" y2="860.3" stroke="#1e3864" stroke-width="9.4" stroke-linecap="round"/><line x1="999.2" y1="859.2" x2="983.8" y2="859.8" stroke="#3d66a8" stroke-width="8.0" stroke-linecap="round"/><line x1="983.8" y1="859.8" x2="968.4" y2="860.3" stroke="#c8382c" stroke-width="8.0" stroke-linecap="round"/>
<line x1="997.0" y1="865.8" x2="975.0" y2="874.6" stroke="#1e3864" stroke-width="9.4" stroke-linecap="round"/><line x1="997.0" y1="865.8" x2="986.0" y2="870.2" stroke="#3d66a8" stroke-width="8.0" stroke-linecap="round"/><line x1="986.0" y1="870.2" x2="975.0" y2="874.6" stroke="#c8382c" stroke-width="8.0" stroke-linecap="round"/>
<line x1="1034.4" y1="881.2" x2="1010.2" y2="897.7" stroke="#1e3864" stroke-width="9.4" stroke-linecap="round"/><line x1="1034.4" y1="881.2" x2="1022.3" y2="889.5" stroke="#3d66a8" stroke-width="8.0" stroke-linecap="round"/><line x1="1022.3" y1="889.5" x2="1010.2" y2="897.7" stroke="#c8382c" stroke-width="8.0" stroke-linecap="round"/>
<line x1="1091.6" y1="879.0" x2="1125.7" y2="884.5" stroke="#1e3864" stroke-width="9.4" stroke-linecap="round"/><line x1="1091.6" y1="879.0" x2="1108.7" y2="881.8" stroke="#3d66a8" stroke-width="8.0" stroke-linecap="round"/><line x1="1108.7" y1="881.8" x2="1125.7" y2="884.5" stroke="#c8382c" stroke-width="8.0" stroke-linecap="round"/>
</g>
<rect x="761.60" y="594.40" width="543.80" height="443.60" fill="none" stroke="#000" stroke-width="2.2"/>
<text x="969.87" y="801.95" font-size="31.61" font-weight="normal" fill="#000">Mg</text>
<text x="1013.13" y="792.50" font-size="21.44" font-weight="normal" fill="#000">2+</text>
<text x="809.17" y="913.60" font-size="31.60" font-weight="normal" fill="#000">L297</text>
<text x="1007.58" y="938.20" font-size="31.60" font-weight="normal" fill="#000">Quercetin</text>
</svg>
</body></html>
